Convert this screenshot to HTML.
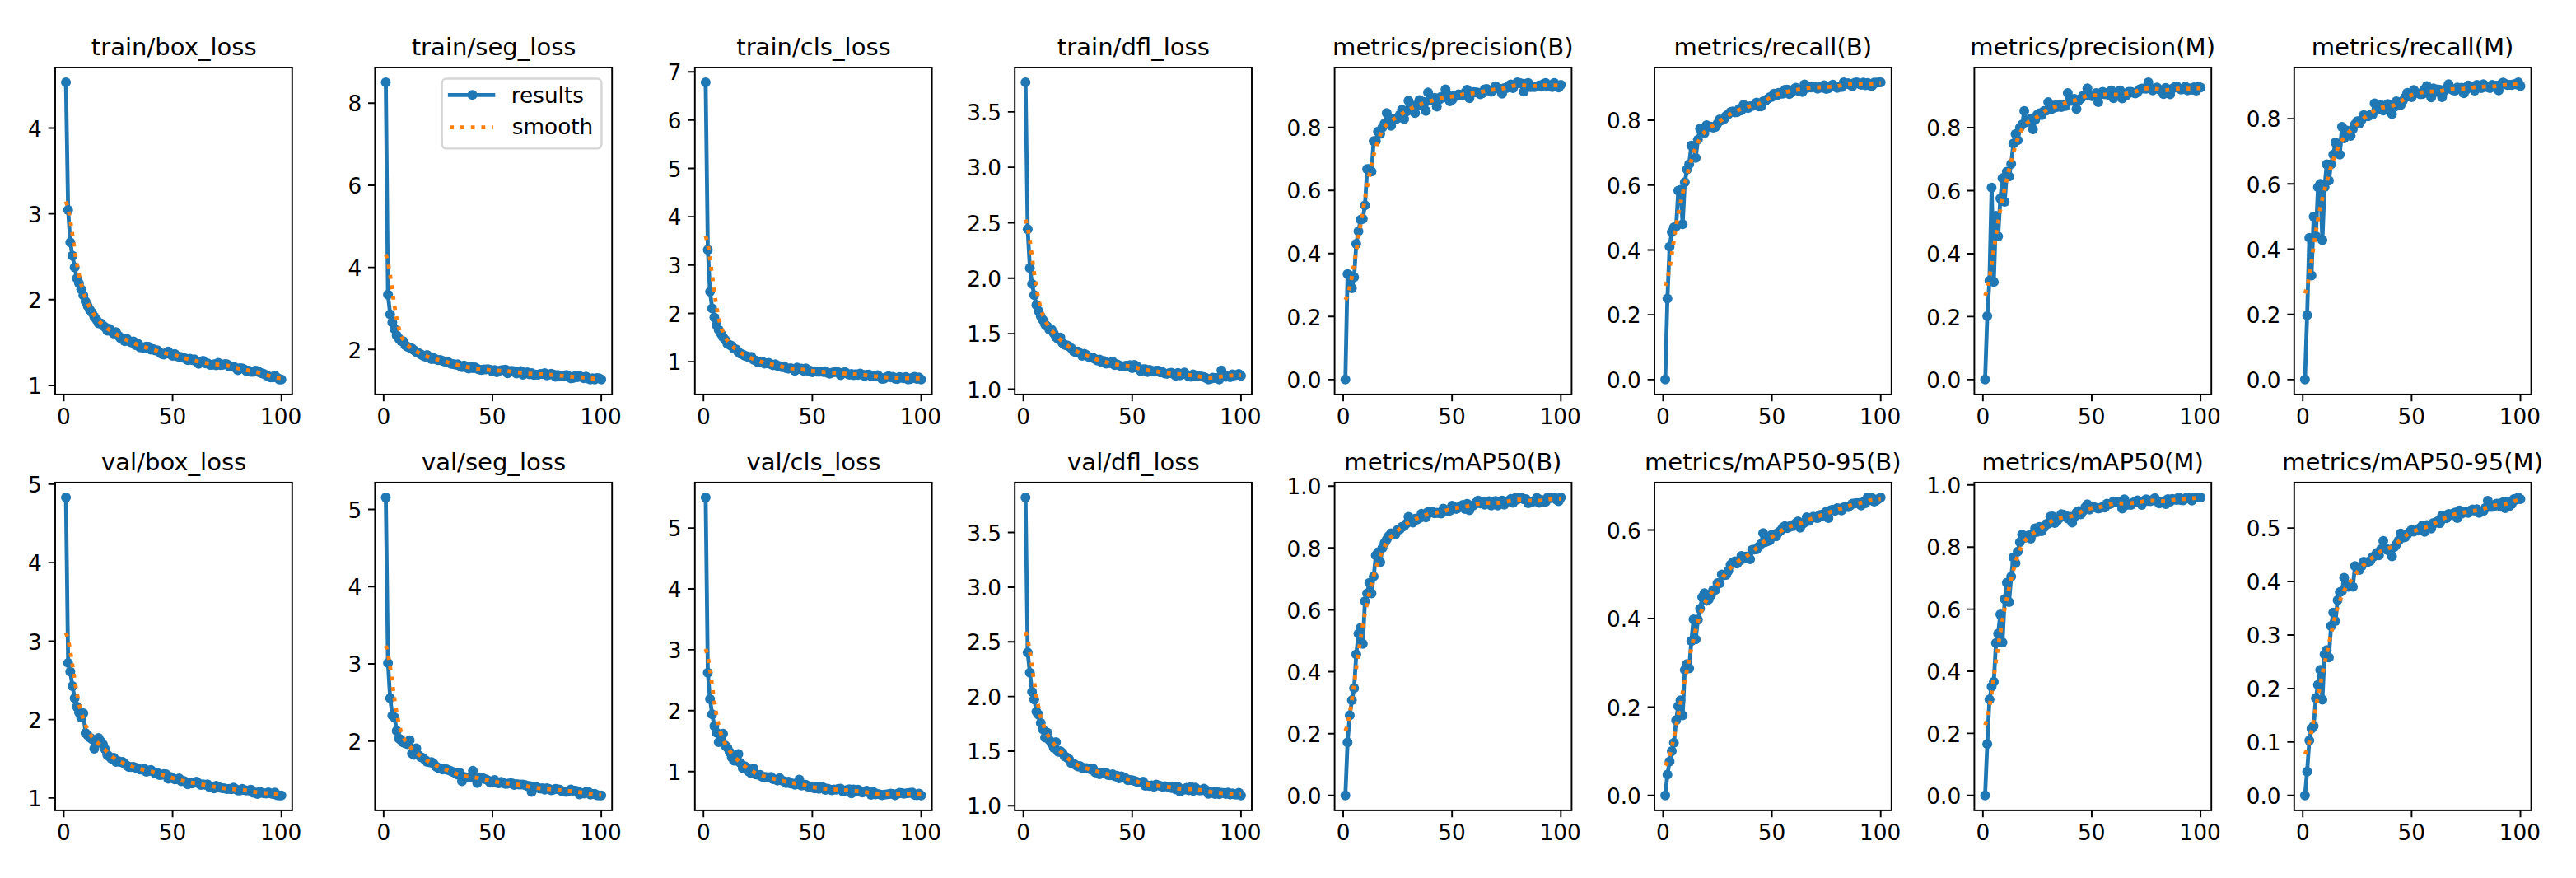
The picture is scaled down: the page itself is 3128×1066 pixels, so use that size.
<!DOCTYPE html>
<html><head><meta charset="utf-8"><title>results</title><style>html,body{margin:0;padding:0;background:#fff;}svg{display:block;}</style></head><body>
<svg width="3128" height="1066" viewBox="0 0 3128 1066">
<rect width="3128" height="1066" fill="#fff"/>
<g font-family="DejaVu Sans, Liberation Sans, sans-serif" fill="#000">
<polyline points="80.08,100.04 82.72,255.06 85.37,294.33 88.01,310.58 90.65,324.44 93.30,337.88 95.94,344.02 98.58,351.32 101.22,358.61 103.87,365.90 106.51,371.40 109.15,376.25 111.80,379.63 114.44,384.52 117.08,387.91 119.72,392.40 122.37,392.42 125.01,395.35 127.65,397.30 130.29,401.60 132.94,399.24 135.58,402.79 138.22,404.99 140.87,403.31 143.51,407.42 146.15,410.61 148.79,410.55 151.44,414.26 154.08,411.14 156.72,414.19 159.37,415.72 162.01,414.44 164.65,419.06 167.29,417.32 169.94,421.87 172.58,421.24 175.22,423.09 177.87,420.66 180.51,421.12 183.15,424.55 185.79,423.66 188.44,425.59 191.08,425.24 193.72,427.66 196.36,429.66 199.01,430.55 201.65,428.49 204.29,426.85 206.94,430.25 209.58,432.10 212.22,429.70 214.86,432.53 217.51,433.25 220.15,433.51 222.79,434.46 225.44,435.19 228.08,437.27 230.72,435.53 233.36,437.16 236.01,436.32 238.65,439.08 241.29,441.66 243.93,439.84 246.58,437.99 249.22,441.13 251.86,441.01 254.51,442.88 257.15,442.95 259.79,442.21 262.43,443.62 265.08,440.46 267.72,443.17 270.36,443.12 273.01,441.90 275.65,442.34 278.29,445.10 280.93,444.96 283.58,445.03 286.22,446.84 288.86,449.50 291.51,446.92 294.15,447.19 296.79,448.38 299.43,450.70 302.08,450.08 304.72,451.41 307.36,451.59 310.00,450.08 312.65,450.39 315.29,452.21 317.93,453.19 320.58,453.94 323.22,455.76 325.86,456.71 328.50,458.26 331.15,458.21 333.79,455.93 336.43,458.43 339.08,460.67 341.72,460.86" fill="none" stroke="#1f77b4" stroke-width="4.8" stroke-linejoin="round" stroke-linecap="square"/>
<g fill="#1f77b4"><circle cx="80.08" cy="100.04" r="6"/><circle cx="82.72" cy="255.06" r="6"/><circle cx="85.37" cy="294.33" r="6"/><circle cx="88.01" cy="310.58" r="6"/><circle cx="90.65" cy="324.44" r="6"/><circle cx="93.30" cy="337.88" r="6"/><circle cx="95.94" cy="344.02" r="6"/><circle cx="98.58" cy="351.32" r="6"/><circle cx="101.22" cy="358.61" r="6"/><circle cx="103.87" cy="365.90" r="6"/><circle cx="106.51" cy="371.40" r="6"/><circle cx="109.15" cy="376.25" r="6"/><circle cx="111.80" cy="379.63" r="6"/><circle cx="114.44" cy="384.52" r="6"/><circle cx="117.08" cy="387.91" r="6"/><circle cx="119.72" cy="392.40" r="6"/><circle cx="122.37" cy="392.42" r="6"/><circle cx="125.01" cy="395.35" r="6"/><circle cx="127.65" cy="397.30" r="6"/><circle cx="130.29" cy="401.60" r="6"/><circle cx="132.94" cy="399.24" r="6"/><circle cx="135.58" cy="402.79" r="6"/><circle cx="138.22" cy="404.99" r="6"/><circle cx="140.87" cy="403.31" r="6"/><circle cx="143.51" cy="407.42" r="6"/><circle cx="146.15" cy="410.61" r="6"/><circle cx="148.79" cy="410.55" r="6"/><circle cx="151.44" cy="414.26" r="6"/><circle cx="154.08" cy="411.14" r="6"/><circle cx="156.72" cy="414.19" r="6"/><circle cx="159.37" cy="415.72" r="6"/><circle cx="162.01" cy="414.44" r="6"/><circle cx="164.65" cy="419.06" r="6"/><circle cx="167.29" cy="417.32" r="6"/><circle cx="169.94" cy="421.87" r="6"/><circle cx="172.58" cy="421.24" r="6"/><circle cx="175.22" cy="423.09" r="6"/><circle cx="177.87" cy="420.66" r="6"/><circle cx="180.51" cy="421.12" r="6"/><circle cx="183.15" cy="424.55" r="6"/><circle cx="185.79" cy="423.66" r="6"/><circle cx="188.44" cy="425.59" r="6"/><circle cx="191.08" cy="425.24" r="6"/><circle cx="193.72" cy="427.66" r="6"/><circle cx="196.36" cy="429.66" r="6"/><circle cx="199.01" cy="430.55" r="6"/><circle cx="201.65" cy="428.49" r="6"/><circle cx="204.29" cy="426.85" r="6"/><circle cx="206.94" cy="430.25" r="6"/><circle cx="209.58" cy="432.10" r="6"/><circle cx="212.22" cy="429.70" r="6"/><circle cx="214.86" cy="432.53" r="6"/><circle cx="217.51" cy="433.25" r="6"/><circle cx="220.15" cy="433.51" r="6"/><circle cx="222.79" cy="434.46" r="6"/><circle cx="225.44" cy="435.19" r="6"/><circle cx="228.08" cy="437.27" r="6"/><circle cx="230.72" cy="435.53" r="6"/><circle cx="233.36" cy="437.16" r="6"/><circle cx="236.01" cy="436.32" r="6"/><circle cx="238.65" cy="439.08" r="6"/><circle cx="241.29" cy="441.66" r="6"/><circle cx="243.93" cy="439.84" r="6"/><circle cx="246.58" cy="437.99" r="6"/><circle cx="249.22" cy="441.13" r="6"/><circle cx="251.86" cy="441.01" r="6"/><circle cx="254.51" cy="442.88" r="6"/><circle cx="257.15" cy="442.95" r="6"/><circle cx="259.79" cy="442.21" r="6"/><circle cx="262.43" cy="443.62" r="6"/><circle cx="265.08" cy="440.46" r="6"/><circle cx="267.72" cy="443.17" r="6"/><circle cx="270.36" cy="443.12" r="6"/><circle cx="273.01" cy="441.90" r="6"/><circle cx="275.65" cy="442.34" r="6"/><circle cx="278.29" cy="445.10" r="6"/><circle cx="280.93" cy="444.96" r="6"/><circle cx="283.58" cy="445.03" r="6"/><circle cx="286.22" cy="446.84" r="6"/><circle cx="288.86" cy="449.50" r="6"/><circle cx="291.51" cy="446.92" r="6"/><circle cx="294.15" cy="447.19" r="6"/><circle cx="296.79" cy="448.38" r="6"/><circle cx="299.43" cy="450.70" r="6"/><circle cx="302.08" cy="450.08" r="6"/><circle cx="304.72" cy="451.41" r="6"/><circle cx="307.36" cy="451.59" r="6"/><circle cx="310.00" cy="450.08" r="6"/><circle cx="312.65" cy="450.39" r="6"/><circle cx="315.29" cy="452.21" r="6"/><circle cx="317.93" cy="453.19" r="6"/><circle cx="320.58" cy="453.94" r="6"/><circle cx="323.22" cy="455.76" r="6"/><circle cx="325.86" cy="456.71" r="6"/><circle cx="328.50" cy="458.26" r="6"/><circle cx="331.15" cy="458.21" r="6"/><circle cx="333.79" cy="455.93" r="6"/><circle cx="336.43" cy="458.43" r="6"/><circle cx="339.08" cy="460.67" r="6"/><circle cx="341.72" cy="460.86" r="6"/></g>
<polyline points="80.08,244.60 82.72,252.81 85.37,267.35 88.01,285.22 90.65,303.46 93.30,320.00 95.94,333.91 98.58,345.18 101.22,354.26 103.87,361.71 106.51,367.98 109.15,373.39 111.80,378.12 114.44,382.28 117.08,385.94 119.72,389.16 122.37,391.99 125.01,394.49 127.65,396.72 130.29,398.73 132.94,400.58 135.58,402.32 138.22,404.00 140.87,405.64 143.51,407.24 146.15,408.78 148.79,410.23 151.44,411.57 154.08,412.83 156.72,414.03 159.37,415.20 162.01,416.35 164.65,417.48 167.29,418.56 169.94,419.57 172.58,420.48 175.22,421.31 177.87,422.08 180.51,422.85 183.15,423.64 185.79,424.47 188.44,425.33 191.08,426.20 193.72,427.02 196.36,427.76 199.01,428.42 201.65,429.01 204.29,429.58 206.94,430.16 209.58,430.79 212.22,431.46 214.86,432.18 217.51,432.93 220.15,433.67 222.79,434.41 225.44,435.12 228.08,435.81 230.72,436.49 233.36,437.16 236.01,437.82 238.65,438.46 241.29,439.07 243.93,439.65 246.58,440.19 249.22,440.70 251.86,441.16 254.51,441.57 257.15,441.90 259.79,442.16 262.43,442.36 265.08,442.54 267.72,442.75 270.36,443.02 273.01,443.39 275.65,443.87 278.29,444.44 280.93,445.09 283.58,445.76 286.22,446.44 288.86,447.09 291.51,447.72 294.15,448.32 296.79,448.89 299.43,449.44 302.08,449.96 304.72,450.45 307.36,450.93 310.00,451.45 312.65,452.04 315.29,452.72 317.93,453.50 320.58,454.33 323.22,455.18 325.86,456.00 328.50,456.76 331.15,457.44 333.79,458.04 336.43,458.53 339.08,458.90 341.72,459.09" fill="none" stroke="#ff7f0e" stroke-width="4.8" stroke-dasharray="4.80 7.92" stroke-linecap="butt" stroke-linejoin="round"/>
<rect x="67.00" y="82.00" width="287.80" height="396.90" fill="none" stroke="#000" stroke-width="1.92" stroke-linejoin="miter"/>
<path d="M77.44 478.90V487.30 M209.58 478.90V487.30 M341.72 478.90V487.30 M67.00 468.00H58.60 M67.00 363.82H58.60 M67.00 259.64H58.60 M67.00 155.46H58.60" stroke="#000" stroke-width="1.92" fill="none"/>
<polyline points="468.48,100.04 471.12,357.82 473.77,381.80 476.41,391.52 479.05,399.39 481.70,407.22 484.34,411.01 486.98,413.89 489.62,414.15 492.27,419.19 494.91,421.03 497.55,422.20 500.20,423.01 502.84,425.29 505.48,427.51 508.12,428.61 510.77,430.06 513.41,431.78 516.05,433.11 518.69,430.96 521.34,434.61 523.98,436.00 526.62,434.83 529.27,436.22 531.91,437.23 534.55,436.88 537.19,438.01 539.84,438.89 542.48,438.75 545.12,440.19 547.77,441.87 550.41,442.00 553.05,442.67 555.69,442.19 558.34,444.34 560.98,445.79 563.62,443.76 566.27,446.10 568.91,447.40 571.55,444.95 574.19,446.95 576.84,445.93 579.48,447.72 582.12,448.80 584.76,449.21 587.41,448.49 590.05,448.39 592.69,448.30 595.34,448.98 597.98,450.95 600.62,449.30 603.26,452.01 605.91,450.26 608.55,449.41 611.19,449.19 613.84,448.68 616.48,453.22 619.12,450.50 621.76,450.21 624.41,450.80 627.05,453.56 629.69,452.08 632.33,450.43 634.98,455.02 637.62,452.67 640.26,452.03 642.91,454.52 645.55,452.94 648.19,455.14 650.83,454.85 653.48,454.91 656.12,453.93 658.76,454.19 661.41,453.04 664.05,455.76 666.69,454.98 669.33,453.83 671.98,454.66 674.62,457.44 677.26,455.18 679.91,456.94 682.55,456.00 685.19,456.24 687.83,455.15 690.48,456.69 693.12,459.38 695.76,458.93 698.40,456.44 701.05,457.99 703.69,456.44 706.33,457.82 708.98,459.36 711.62,457.17 714.26,459.81 716.90,460.86 719.55,459.21 722.19,460.86 724.83,459.10 727.48,459.15 730.12,460.86" fill="none" stroke="#1f77b4" stroke-width="4.8" stroke-linejoin="round" stroke-linecap="square"/>
<g fill="#1f77b4"><circle cx="468.48" cy="100.04" r="6"/><circle cx="471.12" cy="357.82" r="6"/><circle cx="473.77" cy="381.80" r="6"/><circle cx="476.41" cy="391.52" r="6"/><circle cx="479.05" cy="399.39" r="6"/><circle cx="481.70" cy="407.22" r="6"/><circle cx="484.34" cy="411.01" r="6"/><circle cx="486.98" cy="413.89" r="6"/><circle cx="489.62" cy="414.15" r="6"/><circle cx="492.27" cy="419.19" r="6"/><circle cx="494.91" cy="421.03" r="6"/><circle cx="497.55" cy="422.20" r="6"/><circle cx="500.20" cy="423.01" r="6"/><circle cx="502.84" cy="425.29" r="6"/><circle cx="505.48" cy="427.51" r="6"/><circle cx="508.12" cy="428.61" r="6"/><circle cx="510.77" cy="430.06" r="6"/><circle cx="513.41" cy="431.78" r="6"/><circle cx="516.05" cy="433.11" r="6"/><circle cx="518.69" cy="430.96" r="6"/><circle cx="521.34" cy="434.61" r="6"/><circle cx="523.98" cy="436.00" r="6"/><circle cx="526.62" cy="434.83" r="6"/><circle cx="529.27" cy="436.22" r="6"/><circle cx="531.91" cy="437.23" r="6"/><circle cx="534.55" cy="436.88" r="6"/><circle cx="537.19" cy="438.01" r="6"/><circle cx="539.84" cy="438.89" r="6"/><circle cx="542.48" cy="438.75" r="6"/><circle cx="545.12" cy="440.19" r="6"/><circle cx="547.77" cy="441.87" r="6"/><circle cx="550.41" cy="442.00" r="6"/><circle cx="553.05" cy="442.67" r="6"/><circle cx="555.69" cy="442.19" r="6"/><circle cx="558.34" cy="444.34" r="6"/><circle cx="560.98" cy="445.79" r="6"/><circle cx="563.62" cy="443.76" r="6"/><circle cx="566.27" cy="446.10" r="6"/><circle cx="568.91" cy="447.40" r="6"/><circle cx="571.55" cy="444.95" r="6"/><circle cx="574.19" cy="446.95" r="6"/><circle cx="576.84" cy="445.93" r="6"/><circle cx="579.48" cy="447.72" r="6"/><circle cx="582.12" cy="448.80" r="6"/><circle cx="584.76" cy="449.21" r="6"/><circle cx="587.41" cy="448.49" r="6"/><circle cx="590.05" cy="448.39" r="6"/><circle cx="592.69" cy="448.30" r="6"/><circle cx="595.34" cy="448.98" r="6"/><circle cx="597.98" cy="450.95" r="6"/><circle cx="600.62" cy="449.30" r="6"/><circle cx="603.26" cy="452.01" r="6"/><circle cx="605.91" cy="450.26" r="6"/><circle cx="608.55" cy="449.41" r="6"/><circle cx="611.19" cy="449.19" r="6"/><circle cx="613.84" cy="448.68" r="6"/><circle cx="616.48" cy="453.22" r="6"/><circle cx="619.12" cy="450.50" r="6"/><circle cx="621.76" cy="450.21" r="6"/><circle cx="624.41" cy="450.80" r="6"/><circle cx="627.05" cy="453.56" r="6"/><circle cx="629.69" cy="452.08" r="6"/><circle cx="632.33" cy="450.43" r="6"/><circle cx="634.98" cy="455.02" r="6"/><circle cx="637.62" cy="452.67" r="6"/><circle cx="640.26" cy="452.03" r="6"/><circle cx="642.91" cy="454.52" r="6"/><circle cx="645.55" cy="452.94" r="6"/><circle cx="648.19" cy="455.14" r="6"/><circle cx="650.83" cy="454.85" r="6"/><circle cx="653.48" cy="454.91" r="6"/><circle cx="656.12" cy="453.93" r="6"/><circle cx="658.76" cy="454.19" r="6"/><circle cx="661.41" cy="453.04" r="6"/><circle cx="664.05" cy="455.76" r="6"/><circle cx="666.69" cy="454.98" r="6"/><circle cx="669.33" cy="453.83" r="6"/><circle cx="671.98" cy="454.66" r="6"/><circle cx="674.62" cy="457.44" r="6"/><circle cx="677.26" cy="455.18" r="6"/><circle cx="679.91" cy="456.94" r="6"/><circle cx="682.55" cy="456.00" r="6"/><circle cx="685.19" cy="456.24" r="6"/><circle cx="687.83" cy="455.15" r="6"/><circle cx="690.48" cy="456.69" r="6"/><circle cx="693.12" cy="459.38" r="6"/><circle cx="695.76" cy="458.93" r="6"/><circle cx="698.40" cy="456.44" r="6"/><circle cx="701.05" cy="457.99" r="6"/><circle cx="703.69" cy="456.44" r="6"/><circle cx="706.33" cy="457.82" r="6"/><circle cx="708.98" cy="459.36" r="6"/><circle cx="711.62" cy="457.17" r="6"/><circle cx="714.26" cy="459.81" r="6"/><circle cx="716.90" cy="460.86" r="6"/><circle cx="719.55" cy="459.21" r="6"/><circle cx="722.19" cy="460.86" r="6"/><circle cx="724.83" cy="459.10" r="6"/><circle cx="727.48" cy="459.15" r="6"/><circle cx="730.12" cy="460.86" r="6"/></g>
<polyline points="468.48,308.94 471.12,318.17 473.77,334.19 476.41,353.19 479.05,371.55 481.70,386.92 484.34,398.51 486.98,406.66 489.62,412.24 492.27,416.13 494.91,419.01 497.55,421.31 500.20,423.29 502.84,425.04 505.48,426.64 508.12,428.12 510.77,429.46 513.41,430.68 516.05,431.79 518.69,432.79 521.34,433.71 523.98,434.55 526.62,435.32 529.27,436.05 531.91,436.74 534.55,437.42 537.19,438.11 539.84,438.82 542.48,439.55 545.12,440.29 547.77,441.03 550.41,441.76 553.05,442.46 555.69,443.14 558.34,443.78 560.98,444.37 563.62,444.91 566.27,445.40 568.91,445.85 571.55,446.27 574.19,446.68 576.84,447.09 579.48,447.48 582.12,447.86 584.76,448.21 587.41,448.52 590.05,448.82 592.69,449.10 595.34,449.36 597.98,449.61 600.62,449.81 603.26,449.97 605.91,450.08 608.55,450.18 611.19,450.31 613.84,450.47 616.48,450.68 619.12,450.93 621.76,451.21 624.41,451.51 627.05,451.82 629.69,452.12 632.33,452.42 634.98,452.71 637.62,453.00 640.26,453.28 642.91,453.55 645.55,453.80 648.19,454.01 650.83,454.16 653.48,454.28 656.12,454.36 658.76,454.44 661.41,454.54 664.05,454.69 666.69,454.87 669.33,455.09 671.98,455.33 674.62,455.58 677.26,455.82 679.91,456.05 682.55,456.28 685.19,456.51 687.83,456.76 690.48,457.01 693.12,457.24 695.76,457.44 698.40,457.61 701.05,457.77 703.69,457.96 706.33,458.19 708.98,458.46 711.62,458.76 714.26,459.06 716.90,459.33 719.55,459.55 722.19,459.70 724.83,459.81 727.48,459.87 730.12,459.90" fill="none" stroke="#ff7f0e" stroke-width="4.8" stroke-dasharray="4.80 7.92" stroke-linecap="butt" stroke-linejoin="round"/>
<rect x="455.40" y="82.00" width="287.80" height="396.90" fill="none" stroke="#000" stroke-width="1.92" stroke-linejoin="miter"/>
<path d="M465.84 478.90V487.30 M597.98 478.90V487.30 M730.12 478.90V487.30 M455.40 424.32H447.00 M455.40 324.62H447.00 M455.40 224.92H447.00 M455.40 125.22H447.00" stroke="#000" stroke-width="1.92" fill="none"/>
<polyline points="856.88,100.04 859.52,303.21 862.17,354.12 864.81,374.41 867.45,385.49 870.10,394.70 872.74,400.39 875.38,404.94 878.02,409.61 880.67,412.86 883.31,417.23 885.95,418.81 888.60,419.94 891.24,423.21 893.88,424.25 896.52,427.58 899.17,429.43 901.81,430.30 904.45,432.04 907.09,432.38 909.74,434.16 912.38,433.25 915.02,436.81 917.67,437.76 920.31,439.68 922.95,439.09 925.59,438.95 928.24,441.42 930.88,441.08 933.52,440.62 936.17,442.30 938.81,443.48 941.45,442.32 944.09,444.26 946.74,444.62 949.38,445.73 952.02,444.70 954.67,447.04 957.31,447.63 959.95,446.89 962.59,447.71 965.24,450.24 967.88,446.30 970.52,448.12 973.16,447.40 975.81,450.16 978.45,447.32 981.09,450.16 983.74,449.95 986.38,452.02 989.02,450.75 991.66,451.16 994.31,451.40 996.95,450.88 999.59,451.71 1002.24,450.67 1004.88,452.77 1007.52,453.65 1010.16,452.58 1012.81,451.93 1015.45,451.31 1018.09,452.04 1020.73,455.57 1023.38,452.97 1026.02,451.78 1028.66,453.86 1031.31,454.89 1033.95,454.10 1036.59,455.41 1039.23,454.13 1041.88,455.17 1044.52,453.51 1047.16,454.84 1049.81,456.59 1052.45,455.02 1055.09,454.73 1057.73,456.82 1060.38,456.79 1063.02,456.40 1065.66,455.44 1068.31,457.63 1070.95,459.89 1073.59,459.69 1076.23,457.91 1078.88,456.83 1081.52,458.13 1084.16,457.59 1086.80,459.83 1089.45,460.34 1092.09,457.67 1094.73,458.41 1097.38,459.31 1100.02,457.80 1102.66,460.84 1105.30,460.25 1107.95,458.46 1110.59,457.51 1113.23,460.05 1115.88,458.18 1118.52,460.86" fill="none" stroke="#1f77b4" stroke-width="4.8" stroke-linejoin="round" stroke-linecap="square"/>
<g fill="#1f77b4"><circle cx="856.88" cy="100.04" r="6"/><circle cx="859.52" cy="303.21" r="6"/><circle cx="862.17" cy="354.12" r="6"/><circle cx="864.81" cy="374.41" r="6"/><circle cx="867.45" cy="385.49" r="6"/><circle cx="870.10" cy="394.70" r="6"/><circle cx="872.74" cy="400.39" r="6"/><circle cx="875.38" cy="404.94" r="6"/><circle cx="878.02" cy="409.61" r="6"/><circle cx="880.67" cy="412.86" r="6"/><circle cx="883.31" cy="417.23" r="6"/><circle cx="885.95" cy="418.81" r="6"/><circle cx="888.60" cy="419.94" r="6"/><circle cx="891.24" cy="423.21" r="6"/><circle cx="893.88" cy="424.25" r="6"/><circle cx="896.52" cy="427.58" r="6"/><circle cx="899.17" cy="429.43" r="6"/><circle cx="901.81" cy="430.30" r="6"/><circle cx="904.45" cy="432.04" r="6"/><circle cx="907.09" cy="432.38" r="6"/><circle cx="909.74" cy="434.16" r="6"/><circle cx="912.38" cy="433.25" r="6"/><circle cx="915.02" cy="436.81" r="6"/><circle cx="917.67" cy="437.76" r="6"/><circle cx="920.31" cy="439.68" r="6"/><circle cx="922.95" cy="439.09" r="6"/><circle cx="925.59" cy="438.95" r="6"/><circle cx="928.24" cy="441.42" r="6"/><circle cx="930.88" cy="441.08" r="6"/><circle cx="933.52" cy="440.62" r="6"/><circle cx="936.17" cy="442.30" r="6"/><circle cx="938.81" cy="443.48" r="6"/><circle cx="941.45" cy="442.32" r="6"/><circle cx="944.09" cy="444.26" r="6"/><circle cx="946.74" cy="444.62" r="6"/><circle cx="949.38" cy="445.73" r="6"/><circle cx="952.02" cy="444.70" r="6"/><circle cx="954.67" cy="447.04" r="6"/><circle cx="957.31" cy="447.63" r="6"/><circle cx="959.95" cy="446.89" r="6"/><circle cx="962.59" cy="447.71" r="6"/><circle cx="965.24" cy="450.24" r="6"/><circle cx="967.88" cy="446.30" r="6"/><circle cx="970.52" cy="448.12" r="6"/><circle cx="973.16" cy="447.40" r="6"/><circle cx="975.81" cy="450.16" r="6"/><circle cx="978.45" cy="447.32" r="6"/><circle cx="981.09" cy="450.16" r="6"/><circle cx="983.74" cy="449.95" r="6"/><circle cx="986.38" cy="452.02" r="6"/><circle cx="989.02" cy="450.75" r="6"/><circle cx="991.66" cy="451.16" r="6"/><circle cx="994.31" cy="451.40" r="6"/><circle cx="996.95" cy="450.88" r="6"/><circle cx="999.59" cy="451.71" r="6"/><circle cx="1002.24" cy="450.67" r="6"/><circle cx="1004.88" cy="452.77" r="6"/><circle cx="1007.52" cy="453.65" r="6"/><circle cx="1010.16" cy="452.58" r="6"/><circle cx="1012.81" cy="451.93" r="6"/><circle cx="1015.45" cy="451.31" r="6"/><circle cx="1018.09" cy="452.04" r="6"/><circle cx="1020.73" cy="455.57" r="6"/><circle cx="1023.38" cy="452.97" r="6"/><circle cx="1026.02" cy="451.78" r="6"/><circle cx="1028.66" cy="453.86" r="6"/><circle cx="1031.31" cy="454.89" r="6"/><circle cx="1033.95" cy="454.10" r="6"/><circle cx="1036.59" cy="455.41" r="6"/><circle cx="1039.23" cy="454.13" r="6"/><circle cx="1041.88" cy="455.17" r="6"/><circle cx="1044.52" cy="453.51" r="6"/><circle cx="1047.16" cy="454.84" r="6"/><circle cx="1049.81" cy="456.59" r="6"/><circle cx="1052.45" cy="455.02" r="6"/><circle cx="1055.09" cy="454.73" r="6"/><circle cx="1057.73" cy="456.82" r="6"/><circle cx="1060.38" cy="456.79" r="6"/><circle cx="1063.02" cy="456.40" r="6"/><circle cx="1065.66" cy="455.44" r="6"/><circle cx="1068.31" cy="457.63" r="6"/><circle cx="1070.95" cy="459.89" r="6"/><circle cx="1073.59" cy="459.69" r="6"/><circle cx="1076.23" cy="457.91" r="6"/><circle cx="1078.88" cy="456.83" r="6"/><circle cx="1081.52" cy="458.13" r="6"/><circle cx="1084.16" cy="457.59" r="6"/><circle cx="1086.80" cy="459.83" r="6"/><circle cx="1089.45" cy="460.34" r="6"/><circle cx="1092.09" cy="457.67" r="6"/><circle cx="1094.73" cy="458.41" r="6"/><circle cx="1097.38" cy="459.31" r="6"/><circle cx="1100.02" cy="457.80" r="6"/><circle cx="1102.66" cy="460.84" r="6"/><circle cx="1105.30" cy="460.25" r="6"/><circle cx="1107.95" cy="458.46" r="6"/><circle cx="1110.59" cy="457.51" r="6"/><circle cx="1113.23" cy="460.05" r="6"/><circle cx="1115.88" cy="458.18" r="6"/><circle cx="1118.52" cy="460.86" r="6"/></g>
<polyline points="856.88,286.46 859.52,296.31 862.17,313.56 864.81,334.33 867.45,354.88 870.10,372.62 872.74,386.55 875.38,396.83 878.02,404.25 880.67,409.65 883.31,413.76 885.95,417.04 888.60,419.80 891.24,422.21 893.88,424.35 896.52,426.29 899.17,428.05 901.81,429.64 904.45,431.09 907.09,432.42 909.74,433.67 912.38,434.86 915.02,435.98 917.67,437.02 920.31,437.98 922.95,438.84 925.59,439.60 928.24,440.29 930.88,440.92 933.52,441.53 936.17,442.13 938.81,442.73 941.45,443.34 944.09,443.95 946.74,444.55 949.38,445.15 952.02,445.72 954.67,446.26 957.31,446.74 959.95,447.15 962.59,447.49 965.24,447.78 967.88,448.03 970.52,448.28 973.16,448.56 975.81,448.88 978.45,449.25 981.09,449.65 983.74,450.04 986.38,450.41 989.02,450.72 991.66,450.98 994.31,451.21 996.95,451.42 999.59,451.63 1002.24,451.83 1004.88,452.02 1007.52,452.20 1010.16,452.36 1012.81,452.51 1015.45,452.67 1018.09,452.85 1020.73,453.06 1023.38,453.28 1026.02,453.52 1028.66,453.76 1031.31,453.99 1033.95,454.21 1036.59,454.40 1039.23,454.57 1041.88,454.73 1044.52,454.90 1047.16,455.09 1049.81,455.31 1052.45,455.55 1055.09,455.82 1057.73,456.11 1060.38,456.44 1063.02,456.78 1065.66,457.14 1068.31,457.47 1070.95,457.75 1073.59,457.98 1076.23,458.14 1078.88,458.27 1081.52,458.38 1084.16,458.50 1086.80,458.61 1089.45,458.72 1092.09,458.82 1094.73,458.90 1097.38,458.98 1100.02,459.05 1102.66,459.10 1105.30,459.15 1107.95,459.18 1110.59,459.22 1113.23,459.26 1115.88,459.31 1118.52,459.34" fill="none" stroke="#ff7f0e" stroke-width="4.8" stroke-dasharray="4.80 7.92" stroke-linecap="butt" stroke-linejoin="round"/>
<rect x="843.80" y="82.00" width="287.80" height="396.90" fill="none" stroke="#000" stroke-width="1.92" stroke-linejoin="miter"/>
<path d="M854.24 478.90V487.30 M986.38 478.90V487.30 M1118.52 478.90V487.30 M843.80 439.10H835.40 M843.80 380.45H835.40 M843.80 321.80H835.40 M843.80 263.15H835.40 M843.80 204.50H835.40 M843.80 145.85H835.40 M843.80 87.20H835.40" stroke="#000" stroke-width="1.92" fill="none"/>
<polyline points="1245.28,100.04 1247.92,278.28 1250.57,325.39 1253.21,344.78 1255.85,358.24 1258.50,370.22 1261.14,377.62 1263.78,384.09 1266.42,388.47 1269.07,394.02 1271.71,396.16 1274.35,400.17 1277.00,400.17 1279.64,404.73 1282.28,409.30 1284.92,411.78 1287.57,409.76 1290.21,416.51 1292.85,418.76 1295.49,419.27 1298.14,420.62 1300.78,422.86 1303.42,425.93 1306.07,427.72 1308.71,426.77 1311.35,428.85 1313.99,432.07 1316.64,429.49 1319.28,430.99 1321.92,433.21 1324.57,434.03 1327.21,434.14 1329.85,436.09 1332.49,437.75 1335.14,436.50 1337.78,439.77 1340.42,438.34 1343.07,441.55 1345.71,440.44 1348.35,441.01 1350.99,438.99 1353.64,443.14 1356.28,442.24 1358.92,443.61 1361.56,444.78 1364.21,444.65 1366.85,443.88 1369.49,443.95 1372.14,443.34 1374.78,446.98 1377.42,443.11 1380.06,444.43 1382.71,447.68 1385.35,450.74 1387.99,448.18 1390.64,448.30 1393.28,451.75 1395.92,449.11 1398.56,449.99 1401.21,451.31 1403.85,450.02 1406.49,450.00 1409.13,452.37 1411.78,451.87 1414.42,453.40 1417.06,453.88 1419.71,452.96 1422.35,452.50 1424.99,454.00 1427.63,456.23 1430.28,452.71 1432.92,455.74 1435.56,453.85 1438.21,452.15 1440.85,454.96 1443.49,456.91 1446.13,457.61 1448.78,454.51 1451.42,456.36 1454.06,455.93 1456.71,456.91 1459.35,457.24 1461.99,457.83 1464.63,458.90 1467.28,460.86 1469.92,460.13 1472.56,458.57 1475.20,459.02 1477.85,458.93 1480.49,460.86 1483.13,449.78 1485.78,456.91 1488.42,457.62 1491.06,456.46 1493.70,457.95 1496.35,454.57 1498.99,455.80 1501.63,455.27 1504.28,454.03 1506.92,456.24" fill="none" stroke="#1f77b4" stroke-width="4.8" stroke-linejoin="round" stroke-linecap="square"/>
<g fill="#1f77b4"><circle cx="1245.28" cy="100.04" r="6"/><circle cx="1247.92" cy="278.28" r="6"/><circle cx="1250.57" cy="325.39" r="6"/><circle cx="1253.21" cy="344.78" r="6"/><circle cx="1255.85" cy="358.24" r="6"/><circle cx="1258.50" cy="370.22" r="6"/><circle cx="1261.14" cy="377.62" r="6"/><circle cx="1263.78" cy="384.09" r="6"/><circle cx="1266.42" cy="388.47" r="6"/><circle cx="1269.07" cy="394.02" r="6"/><circle cx="1271.71" cy="396.16" r="6"/><circle cx="1274.35" cy="400.17" r="6"/><circle cx="1277.00" cy="400.17" r="6"/><circle cx="1279.64" cy="404.73" r="6"/><circle cx="1282.28" cy="409.30" r="6"/><circle cx="1284.92" cy="411.78" r="6"/><circle cx="1287.57" cy="409.76" r="6"/><circle cx="1290.21" cy="416.51" r="6"/><circle cx="1292.85" cy="418.76" r="6"/><circle cx="1295.49" cy="419.27" r="6"/><circle cx="1298.14" cy="420.62" r="6"/><circle cx="1300.78" cy="422.86" r="6"/><circle cx="1303.42" cy="425.93" r="6"/><circle cx="1306.07" cy="427.72" r="6"/><circle cx="1308.71" cy="426.77" r="6"/><circle cx="1311.35" cy="428.85" r="6"/><circle cx="1313.99" cy="432.07" r="6"/><circle cx="1316.64" cy="429.49" r="6"/><circle cx="1319.28" cy="430.99" r="6"/><circle cx="1321.92" cy="433.21" r="6"/><circle cx="1324.57" cy="434.03" r="6"/><circle cx="1327.21" cy="434.14" r="6"/><circle cx="1329.85" cy="436.09" r="6"/><circle cx="1332.49" cy="437.75" r="6"/><circle cx="1335.14" cy="436.50" r="6"/><circle cx="1337.78" cy="439.77" r="6"/><circle cx="1340.42" cy="438.34" r="6"/><circle cx="1343.07" cy="441.55" r="6"/><circle cx="1345.71" cy="440.44" r="6"/><circle cx="1348.35" cy="441.01" r="6"/><circle cx="1350.99" cy="438.99" r="6"/><circle cx="1353.64" cy="443.14" r="6"/><circle cx="1356.28" cy="442.24" r="6"/><circle cx="1358.92" cy="443.61" r="6"/><circle cx="1361.56" cy="444.78" r="6"/><circle cx="1364.21" cy="444.65" r="6"/><circle cx="1366.85" cy="443.88" r="6"/><circle cx="1369.49" cy="443.95" r="6"/><circle cx="1372.14" cy="443.34" r="6"/><circle cx="1374.78" cy="446.98" r="6"/><circle cx="1377.42" cy="443.11" r="6"/><circle cx="1380.06" cy="444.43" r="6"/><circle cx="1382.71" cy="447.68" r="6"/><circle cx="1385.35" cy="450.74" r="6"/><circle cx="1387.99" cy="448.18" r="6"/><circle cx="1390.64" cy="448.30" r="6"/><circle cx="1393.28" cy="451.75" r="6"/><circle cx="1395.92" cy="449.11" r="6"/><circle cx="1398.56" cy="449.99" r="6"/><circle cx="1401.21" cy="451.31" r="6"/><circle cx="1403.85" cy="450.02" r="6"/><circle cx="1406.49" cy="450.00" r="6"/><circle cx="1409.13" cy="452.37" r="6"/><circle cx="1411.78" cy="451.87" r="6"/><circle cx="1414.42" cy="453.40" r="6"/><circle cx="1417.06" cy="453.88" r="6"/><circle cx="1419.71" cy="452.96" r="6"/><circle cx="1422.35" cy="452.50" r="6"/><circle cx="1424.99" cy="454.00" r="6"/><circle cx="1427.63" cy="456.23" r="6"/><circle cx="1430.28" cy="452.71" r="6"/><circle cx="1432.92" cy="455.74" r="6"/><circle cx="1435.56" cy="453.85" r="6"/><circle cx="1438.21" cy="452.15" r="6"/><circle cx="1440.85" cy="454.96" r="6"/><circle cx="1443.49" cy="456.91" r="6"/><circle cx="1446.13" cy="457.61" r="6"/><circle cx="1448.78" cy="454.51" r="6"/><circle cx="1451.42" cy="456.36" r="6"/><circle cx="1454.06" cy="455.93" r="6"/><circle cx="1456.71" cy="456.91" r="6"/><circle cx="1459.35" cy="457.24" r="6"/><circle cx="1461.99" cy="457.83" r="6"/><circle cx="1464.63" cy="458.90" r="6"/><circle cx="1467.28" cy="460.86" r="6"/><circle cx="1469.92" cy="460.13" r="6"/><circle cx="1472.56" cy="458.57" r="6"/><circle cx="1475.20" cy="459.02" r="6"/><circle cx="1477.85" cy="458.93" r="6"/><circle cx="1480.49" cy="460.86" r="6"/><circle cx="1483.13" cy="449.78" r="6"/><circle cx="1485.78" cy="456.91" r="6"/><circle cx="1488.42" cy="457.62" r="6"/><circle cx="1491.06" cy="456.46" r="6"/><circle cx="1493.70" cy="457.95" r="6"/><circle cx="1496.35" cy="454.57" r="6"/><circle cx="1498.99" cy="455.80" r="6"/><circle cx="1501.63" cy="455.27" r="6"/><circle cx="1504.28" cy="454.03" r="6"/><circle cx="1506.92" cy="456.24" r="6"/></g>
<polyline points="1245.28,266.60 1247.92,275.86 1250.57,292.17 1253.21,312.02 1255.85,331.96 1258.50,349.58 1261.14,363.82 1263.78,374.71 1266.42,382.86 1269.07,389.03 1271.71,393.87 1274.35,397.84 1277.00,401.27 1279.64,404.35 1282.28,407.19 1284.92,409.85 1287.57,412.35 1290.21,414.70 1292.85,416.92 1295.49,419.00 1298.14,420.95 1300.78,422.75 1303.42,424.42 1306.07,425.94 1308.71,427.31 1311.35,428.55 1313.99,429.69 1316.64,430.75 1319.28,431.76 1321.92,432.76 1324.57,433.76 1327.21,434.74 1329.85,435.70 1332.49,436.63 1335.14,437.50 1337.78,438.31 1340.42,439.04 1343.07,439.70 1345.71,440.30 1348.35,440.87 1350.99,441.43 1353.64,441.98 1356.28,442.52 1358.92,443.01 1361.56,443.45 1364.21,443.82 1366.85,444.14 1369.49,444.45 1372.14,444.80 1374.78,445.24 1377.42,445.78 1380.06,446.41 1382.71,447.10 1385.35,447.79 1387.99,448.43 1390.64,448.99 1393.28,449.46 1395.92,449.85 1398.56,450.21 1401.21,450.55 1403.85,450.91 1406.49,451.29 1409.13,451.70 1411.78,452.12 1414.42,452.53 1417.06,452.91 1419.71,453.24 1422.35,453.53 1424.99,453.77 1427.63,453.98 1430.28,454.17 1432.92,454.35 1435.56,454.56 1438.21,454.81 1440.85,455.10 1443.49,455.41 1446.13,455.73 1448.78,456.05 1451.42,456.39 1454.06,456.76 1456.71,457.16 1459.35,457.59 1461.99,458.02 1464.63,458.38 1467.28,458.61 1469.92,458.69 1472.56,458.58 1475.20,458.31 1477.85,457.93 1480.49,457.51 1483.13,457.11 1485.78,456.77 1488.42,456.51 1491.06,456.30 1493.70,456.11 1496.35,455.93 1498.99,455.76 1501.63,455.61 1504.28,455.50 1506.92,455.45" fill="none" stroke="#ff7f0e" stroke-width="4.8" stroke-dasharray="4.80 7.92" stroke-linecap="butt" stroke-linejoin="round"/>
<rect x="1232.20" y="82.00" width="287.80" height="396.90" fill="none" stroke="#000" stroke-width="1.92" stroke-linejoin="miter"/>
<path d="M1242.64 478.90V487.30 M1374.78 478.90V487.30 M1506.92 478.90V487.30 M1232.20 472.40H1223.80 M1232.20 405.09H1223.80 M1232.20 337.78H1223.80 M1232.20 270.47H1223.80 M1232.20 203.16H1223.80 M1232.20 135.85H1223.80" stroke="#000" stroke-width="1.92" fill="none"/>
<polyline points="1633.68,460.86 1636.32,332.68 1638.97,334.59 1641.61,349.90 1644.25,336.50 1646.90,295.95 1649.54,280.64 1652.18,266.87 1654.82,265.72 1657.47,249.27 1660.11,205.26 1662.75,205.26 1665.40,208.32 1668.04,171.21 1670.68,171.21 1673.32,159.73 1675.97,162.41 1678.61,154.76 1681.25,149.91 1683.89,137.16 1686.54,147.80 1689.18,152.84 1691.82,144.29 1694.47,144.97 1697.11,143.56 1699.75,139.49 1702.39,133.33 1705.04,144.43 1707.68,135.62 1710.32,122.23 1712.97,133.30 1715.61,128.43 1718.25,137.16 1720.89,127.27 1723.54,121.47 1726.18,128.23 1728.82,123.87 1731.47,134.86 1734.11,112.29 1736.75,121.85 1739.39,122.10 1742.04,118.69 1744.68,129.50 1747.32,121.24 1749.96,117.41 1752.61,118.53 1755.25,108.46 1757.89,114.65 1760.54,123.00 1763.18,121.20 1765.82,115.99 1768.46,116.76 1771.11,114.60 1773.75,115.84 1776.39,115.42 1779.04,112.12 1781.68,109.03 1784.32,119.17 1786.96,113.50 1789.61,111.76 1792.25,112.15 1794.89,112.61 1797.53,114.58 1800.18,113.28 1802.82,108.46 1805.46,107.91 1808.11,109.78 1810.75,111.54 1813.39,109.01 1816.03,104.63 1818.68,107.22 1821.32,107.87 1823.96,113.82 1826.61,106.95 1829.25,106.93 1831.89,104.32 1834.53,102.49 1837.18,106.91 1839.82,102.45 1842.46,100.04 1845.11,100.76 1847.75,101.43 1850.39,111.14 1853.03,101.84 1855.68,100.81 1858.32,105.70 1860.96,105.46 1863.60,105.78 1866.25,104.70 1868.89,103.87 1871.53,105.21 1874.18,101.96 1876.82,100.81 1879.46,104.70 1882.10,103.48 1884.75,105.78 1887.39,100.71 1890.03,103.63 1892.68,106.14 1895.32,103.10" fill="none" stroke="#1f77b4" stroke-width="4.8" stroke-linejoin="round" stroke-linecap="square"/>
<g fill="#1f77b4"><circle cx="1633.68" cy="460.86" r="6"/><circle cx="1636.32" cy="332.68" r="6"/><circle cx="1638.97" cy="334.59" r="6"/><circle cx="1641.61" cy="349.90" r="6"/><circle cx="1644.25" cy="336.50" r="6"/><circle cx="1646.90" cy="295.95" r="6"/><circle cx="1649.54" cy="280.64" r="6"/><circle cx="1652.18" cy="266.87" r="6"/><circle cx="1654.82" cy="265.72" r="6"/><circle cx="1657.47" cy="249.27" r="6"/><circle cx="1660.11" cy="205.26" r="6"/><circle cx="1662.75" cy="205.26" r="6"/><circle cx="1665.40" cy="208.32" r="6"/><circle cx="1668.04" cy="171.21" r="6"/><circle cx="1670.68" cy="171.21" r="6"/><circle cx="1673.32" cy="159.73" r="6"/><circle cx="1675.97" cy="162.41" r="6"/><circle cx="1678.61" cy="154.76" r="6"/><circle cx="1681.25" cy="149.91" r="6"/><circle cx="1683.89" cy="137.16" r="6"/><circle cx="1686.54" cy="147.80" r="6"/><circle cx="1689.18" cy="152.84" r="6"/><circle cx="1691.82" cy="144.29" r="6"/><circle cx="1694.47" cy="144.97" r="6"/><circle cx="1697.11" cy="143.56" r="6"/><circle cx="1699.75" cy="139.49" r="6"/><circle cx="1702.39" cy="133.33" r="6"/><circle cx="1705.04" cy="144.43" r="6"/><circle cx="1707.68" cy="135.62" r="6"/><circle cx="1710.32" cy="122.23" r="6"/><circle cx="1712.97" cy="133.30" r="6"/><circle cx="1715.61" cy="128.43" r="6"/><circle cx="1718.25" cy="137.16" r="6"/><circle cx="1720.89" cy="127.27" r="6"/><circle cx="1723.54" cy="121.47" r="6"/><circle cx="1726.18" cy="128.23" r="6"/><circle cx="1728.82" cy="123.87" r="6"/><circle cx="1731.47" cy="134.86" r="6"/><circle cx="1734.11" cy="112.29" r="6"/><circle cx="1736.75" cy="121.85" r="6"/><circle cx="1739.39" cy="122.10" r="6"/><circle cx="1742.04" cy="118.69" r="6"/><circle cx="1744.68" cy="129.50" r="6"/><circle cx="1747.32" cy="121.24" r="6"/><circle cx="1749.96" cy="117.41" r="6"/><circle cx="1752.61" cy="118.53" r="6"/><circle cx="1755.25" cy="108.46" r="6"/><circle cx="1757.89" cy="114.65" r="6"/><circle cx="1760.54" cy="123.00" r="6"/><circle cx="1763.18" cy="121.20" r="6"/><circle cx="1765.82" cy="115.99" r="6"/><circle cx="1768.46" cy="116.76" r="6"/><circle cx="1771.11" cy="114.60" r="6"/><circle cx="1773.75" cy="115.84" r="6"/><circle cx="1776.39" cy="115.42" r="6"/><circle cx="1779.04" cy="112.12" r="6"/><circle cx="1781.68" cy="109.03" r="6"/><circle cx="1784.32" cy="119.17" r="6"/><circle cx="1786.96" cy="113.50" r="6"/><circle cx="1789.61" cy="111.76" r="6"/><circle cx="1792.25" cy="112.15" r="6"/><circle cx="1794.89" cy="112.61" r="6"/><circle cx="1797.53" cy="114.58" r="6"/><circle cx="1800.18" cy="113.28" r="6"/><circle cx="1802.82" cy="108.46" r="6"/><circle cx="1805.46" cy="107.91" r="6"/><circle cx="1808.11" cy="109.78" r="6"/><circle cx="1810.75" cy="111.54" r="6"/><circle cx="1813.39" cy="109.01" r="6"/><circle cx="1816.03" cy="104.63" r="6"/><circle cx="1818.68" cy="107.22" r="6"/><circle cx="1821.32" cy="107.87" r="6"/><circle cx="1823.96" cy="113.82" r="6"/><circle cx="1826.61" cy="106.95" r="6"/><circle cx="1829.25" cy="106.93" r="6"/><circle cx="1831.89" cy="104.32" r="6"/><circle cx="1834.53" cy="102.49" r="6"/><circle cx="1837.18" cy="106.91" r="6"/><circle cx="1839.82" cy="102.45" r="6"/><circle cx="1842.46" cy="100.04" r="6"/><circle cx="1845.11" cy="100.76" r="6"/><circle cx="1847.75" cy="101.43" r="6"/><circle cx="1850.39" cy="111.14" r="6"/><circle cx="1853.03" cy="101.84" r="6"/><circle cx="1855.68" cy="100.81" r="6"/><circle cx="1858.32" cy="105.70" r="6"/><circle cx="1860.96" cy="105.46" r="6"/><circle cx="1863.60" cy="105.78" r="6"/><circle cx="1866.25" cy="104.70" r="6"/><circle cx="1868.89" cy="103.87" r="6"/><circle cx="1871.53" cy="105.21" r="6"/><circle cx="1874.18" cy="101.96" r="6"/><circle cx="1876.82" cy="100.81" r="6"/><circle cx="1879.46" cy="104.70" r="6"/><circle cx="1882.10" cy="103.48" r="6"/><circle cx="1884.75" cy="105.78" r="6"/><circle cx="1887.39" cy="100.71" r="6"/><circle cx="1890.03" cy="103.63" r="6"/><circle cx="1892.68" cy="106.14" r="6"/><circle cx="1895.32" cy="103.10" r="6"/></g>
<polyline points="1633.68,364.14 1636.32,358.81 1638.97,348.94 1641.61,335.82 1644.25,320.74 1646.90,304.75 1649.54,288.51 1652.18,272.37 1654.82,256.53 1657.47,241.16 1660.11,226.46 1662.75,212.66 1665.40,200.00 1668.04,188.69 1670.68,178.87 1673.32,170.58 1675.97,163.77 1678.61,158.34 1681.25,154.14 1683.89,150.96 1686.54,148.57 1689.18,146.70 1691.82,145.07 1694.47,143.50 1697.11,141.86 1699.75,140.12 1702.39,138.33 1705.04,136.53 1707.68,134.82 1710.32,133.26 1712.97,131.86 1715.61,130.62 1718.25,129.48 1720.89,128.41 1723.54,127.36 1726.18,126.32 1728.82,125.31 1731.47,124.35 1734.11,123.49 1736.75,122.74 1739.39,122.06 1742.04,121.41 1744.68,120.71 1747.32,119.93 1749.96,119.14 1752.61,118.43 1755.25,117.88 1757.89,117.52 1760.54,117.28 1763.18,117.05 1765.82,116.75 1768.46,116.32 1771.11,115.80 1773.75,115.24 1776.39,114.71 1779.04,114.26 1781.68,113.90 1784.32,113.60 1786.96,113.34 1789.61,113.06 1792.25,112.74 1794.89,112.35 1797.53,111.88 1800.18,111.35 1802.82,110.77 1805.46,110.21 1808.11,109.68 1810.75,109.22 1813.39,108.83 1816.03,108.52 1818.68,108.24 1821.32,107.93 1823.96,107.53 1826.61,107.00 1829.25,106.34 1831.89,105.61 1834.53,104.87 1837.18,104.23 1839.82,103.75 1842.46,103.46 1845.11,103.38 1847.75,103.46 1850.39,103.65 1853.03,103.87 1855.68,104.08 1858.32,104.25 1860.96,104.34 1863.60,104.34 1866.25,104.24 1868.89,104.07 1871.53,103.88 1874.18,103.70 1876.82,103.58 1879.46,103.53 1882.10,103.54 1884.75,103.60 1887.39,103.67 1890.03,103.75 1892.68,103.82 1895.32,103.85" fill="none" stroke="#ff7f0e" stroke-width="4.8" stroke-dasharray="4.80 7.92" stroke-linecap="butt" stroke-linejoin="round"/>
<rect x="1620.60" y="82.00" width="287.80" height="396.90" fill="none" stroke="#000" stroke-width="1.92" stroke-linejoin="miter"/>
<path d="M1631.04 478.90V487.30 M1763.18 478.90V487.30 M1895.32 478.90V487.30 M1620.60 460.86H1612.20 M1620.60 384.33H1612.20 M1620.60 307.81H1612.20 M1620.60 231.28H1612.20 M1620.60 154.76H1612.20" stroke="#000" stroke-width="1.92" fill="none"/>
<polyline points="2022.08,460.86 2024.72,362.47 2027.37,299.50 2030.01,281.79 2032.65,275.88 2035.30,275.10 2037.94,231.41 2040.58,230.62 2043.22,272.34 2045.87,221.18 2048.51,205.83 2051.15,199.14 2053.80,176.71 2056.44,177.49 2059.08,191.66 2061.72,169.62 2064.37,156.24 2067.01,156.24 2069.65,161.75 2072.29,151.91 2074.94,153.88 2077.58,153.71 2080.22,155.02 2082.87,154.32 2085.51,149.99 2088.15,144.99 2090.79,146.01 2093.44,144.87 2096.08,140.74 2098.72,138.70 2101.37,135.97 2104.01,135.13 2106.65,136.59 2109.29,136.17 2111.94,132.23 2114.58,134.00 2117.22,127.27 2119.87,129.51 2122.51,131.22 2125.15,128.91 2127.79,128.76 2130.44,127.39 2133.08,124.39 2135.72,129.26 2138.36,129.35 2141.01,122.98 2143.65,122.58 2146.29,120.14 2148.94,117.92 2151.58,117.69 2154.22,113.72 2156.86,116.07 2159.51,112.71 2162.15,113.88 2164.79,113.79 2167.44,109.12 2170.08,108.72 2172.72,114.14 2175.36,111.97 2178.01,108.47 2180.65,106.47 2183.29,110.27 2185.93,108.99 2188.58,111.66 2191.22,102.47 2193.86,106.99 2196.51,105.84 2199.15,106.18 2201.79,105.34 2204.43,105.89 2207.08,107.86 2209.72,105.17 2212.36,106.50 2215.01,103.49 2217.65,107.95 2220.29,107.29 2222.93,104.30 2225.58,102.64 2228.22,105.00 2230.86,106.71 2233.51,105.08 2236.15,105.69 2238.79,100.04 2241.43,101.97 2244.08,100.89 2246.72,102.89 2249.36,104.67 2252.00,100.53 2254.65,100.04 2257.29,101.62 2259.93,102.89 2262.58,100.21 2265.22,103.41 2267.86,100.63 2270.50,103.83 2273.15,104.19 2275.79,100.32 2278.43,100.39 2281.08,100.04 2283.72,100.04" fill="none" stroke="#1f77b4" stroke-width="4.8" stroke-linejoin="round" stroke-linecap="square"/>
<g fill="#1f77b4"><circle cx="2022.08" cy="460.86" r="6"/><circle cx="2024.72" cy="362.47" r="6"/><circle cx="2027.37" cy="299.50" r="6"/><circle cx="2030.01" cy="281.79" r="6"/><circle cx="2032.65" cy="275.88" r="6"/><circle cx="2035.30" cy="275.10" r="6"/><circle cx="2037.94" cy="231.41" r="6"/><circle cx="2040.58" cy="230.62" r="6"/><circle cx="2043.22" cy="272.34" r="6"/><circle cx="2045.87" cy="221.18" r="6"/><circle cx="2048.51" cy="205.83" r="6"/><circle cx="2051.15" cy="199.14" r="6"/><circle cx="2053.80" cy="176.71" r="6"/><circle cx="2056.44" cy="177.49" r="6"/><circle cx="2059.08" cy="191.66" r="6"/><circle cx="2061.72" cy="169.62" r="6"/><circle cx="2064.37" cy="156.24" r="6"/><circle cx="2067.01" cy="156.24" r="6"/><circle cx="2069.65" cy="161.75" r="6"/><circle cx="2072.29" cy="151.91" r="6"/><circle cx="2074.94" cy="153.88" r="6"/><circle cx="2077.58" cy="153.71" r="6"/><circle cx="2080.22" cy="155.02" r="6"/><circle cx="2082.87" cy="154.32" r="6"/><circle cx="2085.51" cy="149.99" r="6"/><circle cx="2088.15" cy="144.99" r="6"/><circle cx="2090.79" cy="146.01" r="6"/><circle cx="2093.44" cy="144.87" r="6"/><circle cx="2096.08" cy="140.74" r="6"/><circle cx="2098.72" cy="138.70" r="6"/><circle cx="2101.37" cy="135.97" r="6"/><circle cx="2104.01" cy="135.13" r="6"/><circle cx="2106.65" cy="136.59" r="6"/><circle cx="2109.29" cy="136.17" r="6"/><circle cx="2111.94" cy="132.23" r="6"/><circle cx="2114.58" cy="134.00" r="6"/><circle cx="2117.22" cy="127.27" r="6"/><circle cx="2119.87" cy="129.51" r="6"/><circle cx="2122.51" cy="131.22" r="6"/><circle cx="2125.15" cy="128.91" r="6"/><circle cx="2127.79" cy="128.76" r="6"/><circle cx="2130.44" cy="127.39" r="6"/><circle cx="2133.08" cy="124.39" r="6"/><circle cx="2135.72" cy="129.26" r="6"/><circle cx="2138.36" cy="129.35" r="6"/><circle cx="2141.01" cy="122.98" r="6"/><circle cx="2143.65" cy="122.58" r="6"/><circle cx="2146.29" cy="120.14" r="6"/><circle cx="2148.94" cy="117.92" r="6"/><circle cx="2151.58" cy="117.69" r="6"/><circle cx="2154.22" cy="113.72" r="6"/><circle cx="2156.86" cy="116.07" r="6"/><circle cx="2159.51" cy="112.71" r="6"/><circle cx="2162.15" cy="113.88" r="6"/><circle cx="2164.79" cy="113.79" r="6"/><circle cx="2167.44" cy="109.12" r="6"/><circle cx="2170.08" cy="108.72" r="6"/><circle cx="2172.72" cy="114.14" r="6"/><circle cx="2175.36" cy="111.97" r="6"/><circle cx="2178.01" cy="108.47" r="6"/><circle cx="2180.65" cy="106.47" r="6"/><circle cx="2183.29" cy="110.27" r="6"/><circle cx="2185.93" cy="108.99" r="6"/><circle cx="2188.58" cy="111.66" r="6"/><circle cx="2191.22" cy="102.47" r="6"/><circle cx="2193.86" cy="106.99" r="6"/><circle cx="2196.51" cy="105.84" r="6"/><circle cx="2199.15" cy="106.18" r="6"/><circle cx="2201.79" cy="105.34" r="6"/><circle cx="2204.43" cy="105.89" r="6"/><circle cx="2207.08" cy="107.86" r="6"/><circle cx="2209.72" cy="105.17" r="6"/><circle cx="2212.36" cy="106.50" r="6"/><circle cx="2215.01" cy="103.49" r="6"/><circle cx="2217.65" cy="107.95" r="6"/><circle cx="2220.29" cy="107.29" r="6"/><circle cx="2222.93" cy="104.30" r="6"/><circle cx="2225.58" cy="102.64" r="6"/><circle cx="2228.22" cy="105.00" r="6"/><circle cx="2230.86" cy="106.71" r="6"/><circle cx="2233.51" cy="105.08" r="6"/><circle cx="2236.15" cy="105.69" r="6"/><circle cx="2238.79" cy="100.04" r="6"/><circle cx="2241.43" cy="101.97" r="6"/><circle cx="2244.08" cy="100.89" r="6"/><circle cx="2246.72" cy="102.89" r="6"/><circle cx="2249.36" cy="104.67" r="6"/><circle cx="2252.00" cy="100.53" r="6"/><circle cx="2254.65" cy="100.04" r="6"/><circle cx="2257.29" cy="101.62" r="6"/><circle cx="2259.93" cy="102.89" r="6"/><circle cx="2262.58" cy="100.21" r="6"/><circle cx="2265.22" cy="103.41" r="6"/><circle cx="2267.86" cy="100.63" r="6"/><circle cx="2270.50" cy="103.83" r="6"/><circle cx="2273.15" cy="104.19" r="6"/><circle cx="2275.79" cy="100.32" r="6"/><circle cx="2278.43" cy="100.39" r="6"/><circle cx="2281.08" cy="100.04" r="6"/><circle cx="2283.72" cy="100.04" r="6"/></g>
<polyline points="2022.08,347.09 2024.72,339.44 2027.37,325.82 2030.01,308.84 2032.65,291.14 2035.30,274.52 2037.94,259.76 2040.58,246.73 2043.22,234.95 2045.87,223.91 2048.51,213.42 2051.15,203.52 2053.80,194.42 2056.44,186.28 2059.08,179.18 2061.72,173.09 2064.37,167.96 2067.01,163.75 2069.65,160.39 2072.29,157.77 2074.94,155.72 2077.58,154.02 2080.22,152.46 2082.87,150.87 2085.51,149.18 2088.15,147.36 2090.79,145.46 2093.44,143.54 2096.08,141.69 2098.72,139.95 2101.37,138.37 2104.01,136.95 2106.65,135.66 2109.29,134.47 2111.94,133.36 2114.58,132.32 2117.22,131.36 2119.87,130.50 2122.51,129.73 2125.15,129.03 2127.79,128.35 2130.44,127.66 2133.08,126.88 2135.72,125.97 2138.36,124.87 2141.01,123.58 2143.65,122.15 2146.29,120.64 2148.94,119.13 2151.58,117.71 2154.22,116.41 2156.86,115.26 2159.51,114.26 2162.15,113.38 2164.79,112.62 2167.44,111.95 2170.08,111.36 2172.72,110.82 2175.36,110.31 2178.01,109.82 2180.65,109.32 2183.29,108.82 2185.93,108.31 2188.58,107.80 2191.22,107.32 2193.86,106.90 2196.51,106.57 2199.15,106.34 2201.79,106.19 2204.43,106.10 2207.08,106.04 2209.72,105.98 2212.36,105.90 2215.01,105.79 2217.65,105.65 2220.29,105.47 2222.93,105.27 2225.58,105.04 2228.22,104.77 2230.86,104.45 2233.51,104.07 2236.15,103.65 2238.79,103.22 2241.43,102.83 2244.08,102.51 2246.72,102.25 2249.36,102.06 2252.00,101.92 2254.65,101.84 2257.29,101.81 2259.93,101.83 2262.58,101.87 2265.22,101.91 2267.86,101.90 2270.50,101.81 2273.15,101.63 2275.79,101.38 2278.43,101.12 2281.08,100.90 2283.72,100.77" fill="none" stroke="#ff7f0e" stroke-width="4.8" stroke-dasharray="4.80 7.92" stroke-linecap="butt" stroke-linejoin="round"/>
<rect x="2009.00" y="82.00" width="287.80" height="396.90" fill="none" stroke="#000" stroke-width="1.92" stroke-linejoin="miter"/>
<path d="M2019.44 478.90V487.30 M2151.58 478.90V487.30 M2283.72 478.90V487.30 M2009.00 460.86H2000.60 M2009.00 382.15H2000.60 M2009.00 303.43H2000.60 M2009.00 224.72H2000.60 M2009.00 146.01H2000.60" stroke="#000" stroke-width="1.92" fill="none"/>
<polyline points="2410.48,460.86 2413.12,383.65 2415.77,340.84 2418.41,227.70 2421.05,342.37 2423.70,262.10 2426.34,286.95 2428.98,241.08 2431.62,216.24 2434.27,244.90 2436.91,208.59 2439.55,214.33 2442.20,199.04 2444.84,174.19 2447.48,162.73 2450.12,170.37 2452.77,155.08 2455.41,151.26 2458.05,134.82 2460.69,148.35 2463.34,147.70 2465.98,144.23 2468.62,156.99 2471.27,145.49 2473.91,139.33 2476.55,137.40 2479.19,139.79 2481.84,134.87 2484.48,134.44 2487.12,124.12 2489.77,133.00 2492.41,131.77 2495.05,127.96 2497.69,130.06 2500.34,127.30 2502.98,130.01 2505.62,127.86 2508.27,128.76 2510.91,113.04 2513.55,121.43 2516.19,122.44 2518.84,120.06 2521.48,132.15 2524.12,121.97 2526.76,119.73 2529.41,116.24 2532.05,116.07 2534.69,107.30 2537.34,115.06 2539.98,116.72 2542.62,116.29 2545.26,113.05 2547.91,124.12 2550.55,115.02 2553.19,111.38 2555.84,114.53 2558.48,112.90 2561.12,115.74 2563.76,109.69 2566.41,119.23 2569.05,116.50 2571.69,116.13 2574.33,109.78 2576.98,119.53 2579.62,113.64 2582.26,115.67 2584.91,111.45 2587.55,111.38 2590.19,112.50 2592.83,113.60 2595.48,112.08 2598.12,108.43 2600.76,107.56 2603.41,107.55 2606.05,107.72 2608.69,100.04 2611.33,107.19 2613.98,109.68 2616.62,107.21 2619.26,106.23 2621.91,108.88 2624.55,109.77 2627.19,114.18 2629.83,106.83 2632.48,109.15 2635.12,114.56 2637.76,107.71 2640.40,106.05 2643.05,104.82 2645.69,107.30 2648.33,108.71 2650.98,108.17 2653.62,105.15 2656.26,109.69 2658.90,107.15 2661.55,108.90 2664.19,106.02 2666.83,110.07 2669.48,105.46 2672.12,106.16" fill="none" stroke="#1f77b4" stroke-width="4.8" stroke-linejoin="round" stroke-linecap="square"/>
<g fill="#1f77b4"><circle cx="2410.48" cy="460.86" r="6"/><circle cx="2413.12" cy="383.65" r="6"/><circle cx="2415.77" cy="340.84" r="6"/><circle cx="2418.41" cy="227.70" r="6"/><circle cx="2421.05" cy="342.37" r="6"/><circle cx="2423.70" cy="262.10" r="6"/><circle cx="2426.34" cy="286.95" r="6"/><circle cx="2428.98" cy="241.08" r="6"/><circle cx="2431.62" cy="216.24" r="6"/><circle cx="2434.27" cy="244.90" r="6"/><circle cx="2436.91" cy="208.59" r="6"/><circle cx="2439.55" cy="214.33" r="6"/><circle cx="2442.20" cy="199.04" r="6"/><circle cx="2444.84" cy="174.19" r="6"/><circle cx="2447.48" cy="162.73" r="6"/><circle cx="2450.12" cy="170.37" r="6"/><circle cx="2452.77" cy="155.08" r="6"/><circle cx="2455.41" cy="151.26" r="6"/><circle cx="2458.05" cy="134.82" r="6"/><circle cx="2460.69" cy="148.35" r="6"/><circle cx="2463.34" cy="147.70" r="6"/><circle cx="2465.98" cy="144.23" r="6"/><circle cx="2468.62" cy="156.99" r="6"/><circle cx="2471.27" cy="145.49" r="6"/><circle cx="2473.91" cy="139.33" r="6"/><circle cx="2476.55" cy="137.40" r="6"/><circle cx="2479.19" cy="139.79" r="6"/><circle cx="2481.84" cy="134.87" r="6"/><circle cx="2484.48" cy="134.44" r="6"/><circle cx="2487.12" cy="124.12" r="6"/><circle cx="2489.77" cy="133.00" r="6"/><circle cx="2492.41" cy="131.77" r="6"/><circle cx="2495.05" cy="127.96" r="6"/><circle cx="2497.69" cy="130.06" r="6"/><circle cx="2500.34" cy="127.30" r="6"/><circle cx="2502.98" cy="130.01" r="6"/><circle cx="2505.62" cy="127.86" r="6"/><circle cx="2508.27" cy="128.76" r="6"/><circle cx="2510.91" cy="113.04" r="6"/><circle cx="2513.55" cy="121.43" r="6"/><circle cx="2516.19" cy="122.44" r="6"/><circle cx="2518.84" cy="120.06" r="6"/><circle cx="2521.48" cy="132.15" r="6"/><circle cx="2524.12" cy="121.97" r="6"/><circle cx="2526.76" cy="119.73" r="6"/><circle cx="2529.41" cy="116.24" r="6"/><circle cx="2532.05" cy="116.07" r="6"/><circle cx="2534.69" cy="107.30" r="6"/><circle cx="2537.34" cy="115.06" r="6"/><circle cx="2539.98" cy="116.72" r="6"/><circle cx="2542.62" cy="116.29" r="6"/><circle cx="2545.26" cy="113.05" r="6"/><circle cx="2547.91" cy="124.12" r="6"/><circle cx="2550.55" cy="115.02" r="6"/><circle cx="2553.19" cy="111.38" r="6"/><circle cx="2555.84" cy="114.53" r="6"/><circle cx="2558.48" cy="112.90" r="6"/><circle cx="2561.12" cy="115.74" r="6"/><circle cx="2563.76" cy="109.69" r="6"/><circle cx="2566.41" cy="119.23" r="6"/><circle cx="2569.05" cy="116.50" r="6"/><circle cx="2571.69" cy="116.13" r="6"/><circle cx="2574.33" cy="109.78" r="6"/><circle cx="2576.98" cy="119.53" r="6"/><circle cx="2579.62" cy="113.64" r="6"/><circle cx="2582.26" cy="115.67" r="6"/><circle cx="2584.91" cy="111.45" r="6"/><circle cx="2587.55" cy="111.38" r="6"/><circle cx="2590.19" cy="112.50" r="6"/><circle cx="2592.83" cy="113.60" r="6"/><circle cx="2595.48" cy="112.08" r="6"/><circle cx="2598.12" cy="108.43" r="6"/><circle cx="2600.76" cy="107.56" r="6"/><circle cx="2603.41" cy="107.55" r="6"/><circle cx="2606.05" cy="107.72" r="6"/><circle cx="2608.69" cy="100.04" r="6"/><circle cx="2611.33" cy="107.19" r="6"/><circle cx="2613.98" cy="109.68" r="6"/><circle cx="2616.62" cy="107.21" r="6"/><circle cx="2619.26" cy="106.23" r="6"/><circle cx="2621.91" cy="108.88" r="6"/><circle cx="2624.55" cy="109.77" r="6"/><circle cx="2627.19" cy="114.18" r="6"/><circle cx="2629.83" cy="106.83" r="6"/><circle cx="2632.48" cy="109.15" r="6"/><circle cx="2635.12" cy="114.56" r="6"/><circle cx="2637.76" cy="107.71" r="6"/><circle cx="2640.40" cy="106.05" r="6"/><circle cx="2643.05" cy="104.82" r="6"/><circle cx="2645.69" cy="107.30" r="6"/><circle cx="2648.33" cy="108.71" r="6"/><circle cx="2650.98" cy="108.17" r="6"/><circle cx="2653.62" cy="105.15" r="6"/><circle cx="2656.26" cy="109.69" r="6"/><circle cx="2658.90" cy="107.15" r="6"/><circle cx="2661.55" cy="108.90" r="6"/><circle cx="2664.19" cy="106.02" r="6"/><circle cx="2666.83" cy="110.07" r="6"/><circle cx="2669.48" cy="105.46" r="6"/><circle cx="2672.12" cy="106.16" r="6"/></g>
<polyline points="2410.48,358.98 2413.12,351.46 2415.77,338.00 2418.41,321.05 2421.05,303.01 2423.70,285.57 2426.34,269.48 2428.98,254.87 2431.62,241.53 2434.27,229.14 2436.91,217.44 2439.55,206.29 2442.20,195.65 2444.84,185.65 2447.48,176.53 2450.12,168.53 2452.77,161.84 2455.41,156.55 2458.05,152.62 2460.69,149.86 2463.34,147.92 2465.98,146.44 2468.62,145.04 2471.27,143.49 2473.91,141.72 2476.55,139.76 2479.19,137.76 2481.84,135.84 2484.48,134.12 2487.12,132.67 2489.77,131.48 2492.41,130.50 2495.05,129.66 2497.69,128.83 2500.34,127.95 2502.98,126.97 2505.62,125.92 2508.27,124.88 2510.91,123.96 2513.55,123.22 2516.19,122.62 2518.84,122.03 2521.48,121.33 2524.12,120.40 2526.76,119.27 2529.41,118.08 2532.05,117.01 2534.69,116.22 2537.34,115.75 2539.98,115.58 2542.62,115.56 2545.26,115.57 2547.91,115.49 2550.55,115.31 2553.19,115.06 2555.84,114.82 2558.48,114.67 2561.12,114.63 2563.76,114.69 2566.41,114.79 2569.05,114.85 2571.69,114.84 2574.33,114.71 2576.98,114.47 2579.62,114.12 2582.26,113.68 2584.91,113.16 2587.55,112.57 2590.19,111.91 2592.83,111.17 2595.48,110.36 2598.12,109.50 2600.76,108.67 2603.41,107.96 2606.05,107.44 2608.69,107.18 2611.33,107.17 2613.98,107.38 2616.62,107.76 2619.26,108.21 2621.91,108.66 2624.55,109.04 2627.19,109.28 2629.83,109.35 2632.48,109.23 2635.12,108.95 2637.76,108.57 2640.40,108.19 2643.05,107.87 2645.69,107.66 2648.33,107.55 2650.98,107.54 2653.62,107.56 2656.26,107.59 2658.90,107.58 2661.55,107.52 2664.19,107.42 2666.83,107.29 2669.48,107.17 2672.12,107.10" fill="none" stroke="#ff7f0e" stroke-width="4.8" stroke-dasharray="4.80 7.92" stroke-linecap="butt" stroke-linejoin="round"/>
<rect x="2397.40" y="82.00" width="287.80" height="396.90" fill="none" stroke="#000" stroke-width="1.92" stroke-linejoin="miter"/>
<path d="M2407.84 478.90V487.30 M2539.98 478.90V487.30 M2672.12 478.90V487.30 M2397.40 460.86H2389.00 M2397.40 384.41H2389.00 M2397.40 307.97H2389.00 M2397.40 231.53H2389.00 M2397.40 155.08H2389.00" stroke="#000" stroke-width="1.92" fill="none"/>
<polyline points="2798.88,460.86 2801.52,382.86 2804.17,288.63 2806.81,334.55 2809.45,262.89 2812.10,286.65 2814.74,227.26 2817.38,223.30 2820.02,291.40 2822.67,227.26 2825.31,199.54 2827.95,219.34 2830.60,199.54 2833.24,187.66 2835.88,173.01 2838.52,175.78 2841.17,187.66 2843.81,154.01 2846.45,167.89 2849.09,158.36 2851.74,160.05 2854.38,165.09 2857.02,157.05 2859.67,150.92 2862.31,147.22 2864.95,149.95 2867.59,145.83 2870.24,139.69 2872.88,140.79 2875.52,141.26 2878.17,139.41 2880.81,139.33 2883.45,125.50 2886.09,133.55 2888.74,128.22 2891.38,127.69 2894.02,134.21 2896.67,129.75 2899.31,126.34 2901.95,127.34 2904.59,138.57 2907.24,129.97 2909.88,122.94 2912.52,125.66 2915.16,127.45 2917.81,122.23 2920.45,118.19 2923.09,112.67 2925.74,116.91 2928.38,118.06 2931.02,109.17 2933.66,112.85 2936.31,113.15 2938.95,114.57 2941.59,114.16 2944.24,108.29 2946.88,104.52 2949.52,112.66 2952.16,118.37 2954.81,107.30 2957.45,111.85 2960.09,108.59 2962.73,108.97 2965.38,117.98 2968.02,110.86 2970.66,106.99 2973.31,102.14 2975.95,107.97 2978.59,109.62 2981.23,110.11 2983.88,106.33 2986.52,107.05 2989.16,106.39 2991.81,113.23 2994.45,109.13 2997.09,103.77 2999.73,104.88 3002.38,105.47 3005.02,110.06 3007.66,103.01 3010.31,104.96 3012.95,106.95 3015.59,102.17 3018.23,105.50 3020.88,105.67 3023.52,107.07 3026.16,103.05 3028.80,105.29 3031.45,103.97 3034.09,109.66 3036.73,102.55 3039.38,100.22 3042.02,101.77 3044.66,103.29 3047.30,103.01 3049.95,103.34 3052.59,102.14 3055.23,102.45 3057.88,100.04 3060.52,104.52" fill="none" stroke="#1f77b4" stroke-width="4.8" stroke-linejoin="round" stroke-linecap="square"/>
<g fill="#1f77b4"><circle cx="2798.88" cy="460.86" r="6"/><circle cx="2801.52" cy="382.86" r="6"/><circle cx="2804.17" cy="288.63" r="6"/><circle cx="2806.81" cy="334.55" r="6"/><circle cx="2809.45" cy="262.89" r="6"/><circle cx="2812.10" cy="286.65" r="6"/><circle cx="2814.74" cy="227.26" r="6"/><circle cx="2817.38" cy="223.30" r="6"/><circle cx="2820.02" cy="291.40" r="6"/><circle cx="2822.67" cy="227.26" r="6"/><circle cx="2825.31" cy="199.54" r="6"/><circle cx="2827.95" cy="219.34" r="6"/><circle cx="2830.60" cy="199.54" r="6"/><circle cx="2833.24" cy="187.66" r="6"/><circle cx="2835.88" cy="173.01" r="6"/><circle cx="2838.52" cy="175.78" r="6"/><circle cx="2841.17" cy="187.66" r="6"/><circle cx="2843.81" cy="154.01" r="6"/><circle cx="2846.45" cy="167.89" r="6"/><circle cx="2849.09" cy="158.36" r="6"/><circle cx="2851.74" cy="160.05" r="6"/><circle cx="2854.38" cy="165.09" r="6"/><circle cx="2857.02" cy="157.05" r="6"/><circle cx="2859.67" cy="150.92" r="6"/><circle cx="2862.31" cy="147.22" r="6"/><circle cx="2864.95" cy="149.95" r="6"/><circle cx="2867.59" cy="145.83" r="6"/><circle cx="2870.24" cy="139.69" r="6"/><circle cx="2872.88" cy="140.79" r="6"/><circle cx="2875.52" cy="141.26" r="6"/><circle cx="2878.17" cy="139.41" r="6"/><circle cx="2880.81" cy="139.33" r="6"/><circle cx="2883.45" cy="125.50" r="6"/><circle cx="2886.09" cy="133.55" r="6"/><circle cx="2888.74" cy="128.22" r="6"/><circle cx="2891.38" cy="127.69" r="6"/><circle cx="2894.02" cy="134.21" r="6"/><circle cx="2896.67" cy="129.75" r="6"/><circle cx="2899.31" cy="126.34" r="6"/><circle cx="2901.95" cy="127.34" r="6"/><circle cx="2904.59" cy="138.57" r="6"/><circle cx="2907.24" cy="129.97" r="6"/><circle cx="2909.88" cy="122.94" r="6"/><circle cx="2912.52" cy="125.66" r="6"/><circle cx="2915.16" cy="127.45" r="6"/><circle cx="2917.81" cy="122.23" r="6"/><circle cx="2920.45" cy="118.19" r="6"/><circle cx="2923.09" cy="112.67" r="6"/><circle cx="2925.74" cy="116.91" r="6"/><circle cx="2928.38" cy="118.06" r="6"/><circle cx="2931.02" cy="109.17" r="6"/><circle cx="2933.66" cy="112.85" r="6"/><circle cx="2936.31" cy="113.15" r="6"/><circle cx="2938.95" cy="114.57" r="6"/><circle cx="2941.59" cy="114.16" r="6"/><circle cx="2944.24" cy="108.29" r="6"/><circle cx="2946.88" cy="104.52" r="6"/><circle cx="2949.52" cy="112.66" r="6"/><circle cx="2952.16" cy="118.37" r="6"/><circle cx="2954.81" cy="107.30" r="6"/><circle cx="2957.45" cy="111.85" r="6"/><circle cx="2960.09" cy="108.59" r="6"/><circle cx="2962.73" cy="108.97" r="6"/><circle cx="2965.38" cy="117.98" r="6"/><circle cx="2968.02" cy="110.86" r="6"/><circle cx="2970.66" cy="106.99" r="6"/><circle cx="2973.31" cy="102.14" r="6"/><circle cx="2975.95" cy="107.97" r="6"/><circle cx="2978.59" cy="109.62" r="6"/><circle cx="2981.23" cy="110.11" r="6"/><circle cx="2983.88" cy="106.33" r="6"/><circle cx="2986.52" cy="107.05" r="6"/><circle cx="2989.16" cy="106.39" r="6"/><circle cx="2991.81" cy="113.23" r="6"/><circle cx="2994.45" cy="109.13" r="6"/><circle cx="2997.09" cy="103.77" r="6"/><circle cx="2999.73" cy="104.88" r="6"/><circle cx="3002.38" cy="105.47" r="6"/><circle cx="3005.02" cy="110.06" r="6"/><circle cx="3007.66" cy="103.01" r="6"/><circle cx="3010.31" cy="104.96" r="6"/><circle cx="3012.95" cy="106.95" r="6"/><circle cx="3015.59" cy="102.17" r="6"/><circle cx="3018.23" cy="105.50" r="6"/><circle cx="3020.88" cy="105.67" r="6"/><circle cx="3023.52" cy="107.07" r="6"/><circle cx="3026.16" cy="103.05" r="6"/><circle cx="3028.80" cy="105.29" r="6"/><circle cx="3031.45" cy="103.97" r="6"/><circle cx="3034.09" cy="109.66" r="6"/><circle cx="3036.73" cy="102.55" r="6"/><circle cx="3039.38" cy="100.22" r="6"/><circle cx="3042.02" cy="101.77" r="6"/><circle cx="3044.66" cy="103.29" r="6"/><circle cx="3047.30" cy="103.01" r="6"/><circle cx="3049.95" cy="103.34" r="6"/><circle cx="3052.59" cy="102.14" r="6"/><circle cx="3055.23" cy="102.45" r="6"/><circle cx="3057.88" cy="100.04" r="6"/><circle cx="3060.52" cy="104.52" r="6"/></g>
<polyline points="2798.88,356.29 2801.52,348.57 2804.17,334.69 2806.81,317.23 2809.45,298.81 2812.10,281.43 2814.74,266.08 2817.38,252.83 2820.02,241.23 2822.67,230.67 2825.31,220.72 2827.95,211.23 2830.60,202.31 2833.24,194.14 2835.88,186.88 2838.52,180.61 2841.17,175.28 2843.81,170.80 2846.45,167.04 2849.09,163.81 2851.74,160.96 2854.38,158.30 2857.02,155.71 2859.67,153.14 2862.31,150.61 2864.95,148.15 2867.59,145.83 2870.24,143.64 2872.88,141.56 2875.52,139.57 2878.17,137.66 2880.81,135.85 2883.45,134.20 2886.09,132.81 2888.74,131.72 2891.38,130.93 2894.02,130.40 2896.67,130.02 2899.31,129.68 2901.95,129.24 2904.59,128.60 2907.24,127.69 2909.88,126.48 2912.52,125.00 2915.16,123.32 2917.81,121.54 2920.45,119.77 2923.09,118.12 2925.74,116.67 2928.38,115.44 2931.02,114.44 2933.66,113.63 2936.31,112.96 2938.95,112.40 2941.59,111.94 2944.24,111.58 2946.88,111.34 2949.52,111.19 2952.16,111.11 2954.81,111.04 2957.45,110.93 2960.09,110.74 2962.73,110.45 2965.38,110.05 2968.02,109.56 2970.66,109.06 2973.31,108.61 2975.95,108.29 2978.59,108.10 2981.23,108.02 2983.88,107.98 2986.52,107.93 2989.16,107.82 2991.81,107.62 2994.45,107.33 2997.09,106.99 2999.73,106.62 3002.38,106.27 3005.02,105.96 3007.66,105.70 3010.31,105.49 3012.95,105.33 3015.59,105.22 3018.23,105.16 3020.88,105.11 3023.52,105.05 3026.16,104.95 3028.80,104.78 3031.45,104.52 3034.09,104.18 3036.73,103.80 3039.38,103.43 3042.02,103.12 3044.66,102.88 3047.30,102.72 3049.95,102.62 3052.59,102.56 3055.23,102.52 3057.88,102.51 3060.52,102.50" fill="none" stroke="#ff7f0e" stroke-width="4.8" stroke-dasharray="4.80 7.92" stroke-linecap="butt" stroke-linejoin="round"/>
<rect x="2785.80" y="82.00" width="287.80" height="396.90" fill="none" stroke="#000" stroke-width="1.92" stroke-linejoin="miter"/>
<path d="M2796.24 478.90V487.30 M2928.38 478.90V487.30 M3060.52 478.90V487.30 M2785.80 460.86H2777.40 M2785.80 381.67H2777.40 M2785.80 302.48H2777.40 M2785.80 223.30H2777.40 M2785.80 144.11H2777.40" stroke="#000" stroke-width="1.92" fill="none"/>
<polyline points="80.08,603.99 82.72,804.88 85.37,815.45 88.01,833.07 90.65,847.84 93.30,858.03 95.94,864.98 98.58,870.98 101.22,866.03 103.87,889.94 106.51,892.70 109.15,895.56 111.80,897.47 114.44,908.90 117.08,902.23 119.72,895.94 122.37,900.32 125.01,903.66 127.65,909.85 130.29,916.52 132.94,918.77 135.58,921.22 138.22,920.02 140.87,925.09 143.51,924.10 146.15,925.28 148.79,924.92 151.44,927.18 154.08,929.52 156.72,931.15 159.37,931.20 162.01,931.01 164.65,931.89 167.29,932.98 169.94,934.33 172.58,934.40 175.22,933.50 177.87,936.90 180.51,936.10 183.15,934.75 185.79,936.88 188.44,938.98 191.08,938.33 193.72,940.99 196.36,940.83 199.01,939.64 201.65,940.02 204.29,945.50 206.94,943.15 209.58,944.81 212.22,946.25 214.86,945.96 217.51,945.08 220.15,948.41 222.79,947.90 225.44,949.24 228.08,952.30 230.72,949.93 233.36,951.14 236.01,950.15 238.65,949.05 241.29,951.25 243.93,952.97 246.58,952.24 249.22,952.88 251.86,952.14 254.51,955.66 257.15,955.65 259.79,957.16 262.43,954.09 265.08,955.30 267.72,956.51 270.36,957.02 273.01,957.23 275.65,958.09 278.29,957.70 280.93,958.30 283.58,956.23 286.22,957.97 288.86,959.81 291.51,959.85 294.15,957.87 296.79,959.17 299.43,959.70 302.08,959.47 304.72,958.67 307.36,962.62 310.00,962.31 312.65,963.89 315.29,961.23 317.93,962.60 320.58,963.20 323.22,963.55 325.86,961.91 328.50,963.28 331.15,964.10 333.79,962.16 336.43,965.62 339.08,965.81 341.72,965.81" fill="none" stroke="#1f77b4" stroke-width="4.8" stroke-linejoin="round" stroke-linecap="square"/>
<g fill="#1f77b4"><circle cx="80.08" cy="603.99" r="6"/><circle cx="82.72" cy="804.88" r="6"/><circle cx="85.37" cy="815.45" r="6"/><circle cx="88.01" cy="833.07" r="6"/><circle cx="90.65" cy="847.84" r="6"/><circle cx="93.30" cy="858.03" r="6"/><circle cx="95.94" cy="864.98" r="6"/><circle cx="98.58" cy="870.98" r="6"/><circle cx="101.22" cy="866.03" r="6"/><circle cx="103.87" cy="889.94" r="6"/><circle cx="106.51" cy="892.70" r="6"/><circle cx="109.15" cy="895.56" r="6"/><circle cx="111.80" cy="897.47" r="6"/><circle cx="114.44" cy="908.90" r="6"/><circle cx="117.08" cy="902.23" r="6"/><circle cx="119.72" cy="895.94" r="6"/><circle cx="122.37" cy="900.32" r="6"/><circle cx="125.01" cy="903.66" r="6"/><circle cx="127.65" cy="909.85" r="6"/><circle cx="130.29" cy="916.52" r="6"/><circle cx="132.94" cy="918.77" r="6"/><circle cx="135.58" cy="921.22" r="6"/><circle cx="138.22" cy="920.02" r="6"/><circle cx="140.87" cy="925.09" r="6"/><circle cx="143.51" cy="924.10" r="6"/><circle cx="146.15" cy="925.28" r="6"/><circle cx="148.79" cy="924.92" r="6"/><circle cx="151.44" cy="927.18" r="6"/><circle cx="154.08" cy="929.52" r="6"/><circle cx="156.72" cy="931.15" r="6"/><circle cx="159.37" cy="931.20" r="6"/><circle cx="162.01" cy="931.01" r="6"/><circle cx="164.65" cy="931.89" r="6"/><circle cx="167.29" cy="932.98" r="6"/><circle cx="169.94" cy="934.33" r="6"/><circle cx="172.58" cy="934.40" r="6"/><circle cx="175.22" cy="933.50" r="6"/><circle cx="177.87" cy="936.90" r="6"/><circle cx="180.51" cy="936.10" r="6"/><circle cx="183.15" cy="934.75" r="6"/><circle cx="185.79" cy="936.88" r="6"/><circle cx="188.44" cy="938.98" r="6"/><circle cx="191.08" cy="938.33" r="6"/><circle cx="193.72" cy="940.99" r="6"/><circle cx="196.36" cy="940.83" r="6"/><circle cx="199.01" cy="939.64" r="6"/><circle cx="201.65" cy="940.02" r="6"/><circle cx="204.29" cy="945.50" r="6"/><circle cx="206.94" cy="943.15" r="6"/><circle cx="209.58" cy="944.81" r="6"/><circle cx="212.22" cy="946.25" r="6"/><circle cx="214.86" cy="945.96" r="6"/><circle cx="217.51" cy="945.08" r="6"/><circle cx="220.15" cy="948.41" r="6"/><circle cx="222.79" cy="947.90" r="6"/><circle cx="225.44" cy="949.24" r="6"/><circle cx="228.08" cy="952.30" r="6"/><circle cx="230.72" cy="949.93" r="6"/><circle cx="233.36" cy="951.14" r="6"/><circle cx="236.01" cy="950.15" r="6"/><circle cx="238.65" cy="949.05" r="6"/><circle cx="241.29" cy="951.25" r="6"/><circle cx="243.93" cy="952.97" r="6"/><circle cx="246.58" cy="952.24" r="6"/><circle cx="249.22" cy="952.88" r="6"/><circle cx="251.86" cy="952.14" r="6"/><circle cx="254.51" cy="955.66" r="6"/><circle cx="257.15" cy="955.65" r="6"/><circle cx="259.79" cy="957.16" r="6"/><circle cx="262.43" cy="954.09" r="6"/><circle cx="265.08" cy="955.30" r="6"/><circle cx="267.72" cy="956.51" r="6"/><circle cx="270.36" cy="957.02" r="6"/><circle cx="273.01" cy="957.23" r="6"/><circle cx="275.65" cy="958.09" r="6"/><circle cx="278.29" cy="957.70" r="6"/><circle cx="280.93" cy="958.30" r="6"/><circle cx="283.58" cy="956.23" r="6"/><circle cx="286.22" cy="957.97" r="6"/><circle cx="288.86" cy="959.81" r="6"/><circle cx="291.51" cy="959.85" r="6"/><circle cx="294.15" cy="957.87" r="6"/><circle cx="296.79" cy="959.17" r="6"/><circle cx="299.43" cy="959.70" r="6"/><circle cx="302.08" cy="959.47" r="6"/><circle cx="304.72" cy="958.67" r="6"/><circle cx="307.36" cy="962.62" r="6"/><circle cx="310.00" cy="962.31" r="6"/><circle cx="312.65" cy="963.89" r="6"/><circle cx="315.29" cy="961.23" r="6"/><circle cx="317.93" cy="962.60" r="6"/><circle cx="320.58" cy="963.20" r="6"/><circle cx="323.22" cy="963.55" r="6"/><circle cx="325.86" cy="961.91" r="6"/><circle cx="328.50" cy="963.28" r="6"/><circle cx="331.15" cy="964.10" r="6"/><circle cx="333.79" cy="962.16" r="6"/><circle cx="336.43" cy="965.62" r="6"/><circle cx="339.08" cy="965.81" r="6"/><circle cx="341.72" cy="965.81" r="6"/></g>
<polyline points="80.08,768.19 82.72,776.28 85.37,790.53 88.01,807.90 90.65,825.45 93.30,841.19 95.94,854.30 98.58,864.89 101.22,873.44 103.87,880.47 106.51,886.30 109.15,891.09 111.80,894.94 114.44,898.00 117.08,900.51 119.72,902.78 122.37,905.08 125.01,907.57 127.65,910.27 130.29,913.05 132.94,915.74 135.58,918.20 138.22,920.33 140.87,922.14 143.51,923.68 146.15,925.04 148.79,926.28 151.44,927.44 154.08,928.54 156.72,929.56 159.37,930.49 162.01,931.34 164.65,932.12 167.29,932.83 169.94,933.50 172.58,934.14 175.22,934.76 177.87,935.38 180.51,936.02 183.15,936.68 185.79,937.38 188.44,938.12 191.08,938.88 193.72,939.65 196.36,940.43 199.01,941.23 201.65,942.04 204.29,942.87 206.94,943.70 209.58,944.51 212.22,945.30 214.86,946.07 217.51,946.83 220.15,947.58 222.79,948.29 225.44,948.95 228.08,949.51 230.72,949.98 233.36,950.37 236.01,950.73 238.65,951.10 241.29,951.52 243.93,952.00 246.58,952.54 249.22,953.11 251.86,953.69 254.51,954.25 257.15,954.76 259.79,955.22 262.43,955.63 265.08,956.01 267.72,956.36 270.36,956.70 273.01,957.02 275.65,957.31 278.29,957.57 280.93,957.82 283.58,958.06 286.22,958.31 288.86,958.56 291.51,958.82 294.15,959.10 296.79,959.41 299.43,959.77 302.08,960.18 304.72,960.64 307.36,961.12 310.00,961.57 312.65,961.97 315.29,962.29 317.93,962.55 320.58,962.78 323.22,962.99 325.86,963.22 328.50,963.49 331.15,963.80 333.79,964.13 336.43,964.45 339.08,964.70 341.72,964.84" fill="none" stroke="#ff7f0e" stroke-width="4.8" stroke-dasharray="4.80 7.92" stroke-linecap="butt" stroke-linejoin="round"/>
<rect x="67.00" y="585.90" width="287.80" height="398.00" fill="none" stroke="#000" stroke-width="1.92" stroke-linejoin="miter"/>
<path d="M77.44 983.90V992.30 M209.58 983.90V992.30 M341.72 983.90V992.30 M67.00 968.90H58.60 M67.00 873.65H58.60 M67.00 778.40H58.60 M67.00 683.15H58.60 M67.00 587.89H58.60" stroke="#000" stroke-width="1.92" fill="none"/>
<polyline points="468.48,603.99 471.12,804.90 473.77,847.84 476.41,868.65 479.05,871.00 481.70,887.22 484.34,896.40 486.98,898.75 489.62,901.56 492.27,902.50 494.91,903.44 497.55,898.75 500.20,914.87 502.84,916.56 505.48,908.40 508.12,916.78 510.77,919.03 513.41,920.18 516.05,922.48 518.69,925.10 521.34,925.43 523.98,925.36 526.62,927.34 529.27,930.58 531.91,932.16 534.55,932.94 537.19,934.16 539.84,933.65 542.48,934.01 545.12,935.30 547.77,936.32 550.41,937.41 553.05,938.78 555.69,940.47 558.34,938.17 560.98,948.53 563.62,943.23 566.27,943.84 568.91,943.88 571.55,943.44 574.19,935.87 576.84,942.82 579.48,950.78 582.12,943.63 584.76,944.18 587.41,945.26 590.05,946.24 592.69,947.58 595.34,950.34 597.98,948.90 600.62,947.00 603.26,950.55 605.91,951.05 608.55,949.25 611.19,950.75 613.84,951.76 616.48,951.44 619.12,950.93 621.76,951.05 624.41,953.07 627.05,952.01 629.69,952.52 632.33,952.42 634.98,952.41 637.62,952.91 640.26,954.59 642.91,954.27 645.55,961.47 648.19,954.93 650.83,955.15 653.48,956.82 656.12,957.61 658.76,956.96 661.41,958.75 664.05,957.03 666.69,957.81 669.33,959.47 671.98,958.67 674.62,957.86 677.26,958.35 679.91,958.82 682.55,960.67 685.19,961.22 687.83,961.57 690.48,960.55 693.12,958.50 695.76,959.94 698.40,959.88 701.05,960.38 703.69,964.43 706.33,962.84 708.98,963.41 711.62,961.51 714.26,961.25 716.90,964.64 719.55,964.08 722.19,963.79 724.83,965.56 727.48,965.81 730.12,965.81" fill="none" stroke="#1f77b4" stroke-width="4.8" stroke-linejoin="round" stroke-linecap="square"/>
<g fill="#1f77b4"><circle cx="468.48" cy="603.99" r="6"/><circle cx="471.12" cy="804.90" r="6"/><circle cx="473.77" cy="847.84" r="6"/><circle cx="476.41" cy="868.65" r="6"/><circle cx="479.05" cy="871.00" r="6"/><circle cx="481.70" cy="887.22" r="6"/><circle cx="484.34" cy="896.40" r="6"/><circle cx="486.98" cy="898.75" r="6"/><circle cx="489.62" cy="901.56" r="6"/><circle cx="492.27" cy="902.50" r="6"/><circle cx="494.91" cy="903.44" r="6"/><circle cx="497.55" cy="898.75" r="6"/><circle cx="500.20" cy="914.87" r="6"/><circle cx="502.84" cy="916.56" r="6"/><circle cx="505.48" cy="908.40" r="6"/><circle cx="508.12" cy="916.78" r="6"/><circle cx="510.77" cy="919.03" r="6"/><circle cx="513.41" cy="920.18" r="6"/><circle cx="516.05" cy="922.48" r="6"/><circle cx="518.69" cy="925.10" r="6"/><circle cx="521.34" cy="925.43" r="6"/><circle cx="523.98" cy="925.36" r="6"/><circle cx="526.62" cy="927.34" r="6"/><circle cx="529.27" cy="930.58" r="6"/><circle cx="531.91" cy="932.16" r="6"/><circle cx="534.55" cy="932.94" r="6"/><circle cx="537.19" cy="934.16" r="6"/><circle cx="539.84" cy="933.65" r="6"/><circle cx="542.48" cy="934.01" r="6"/><circle cx="545.12" cy="935.30" r="6"/><circle cx="547.77" cy="936.32" r="6"/><circle cx="550.41" cy="937.41" r="6"/><circle cx="553.05" cy="938.78" r="6"/><circle cx="555.69" cy="940.47" r="6"/><circle cx="558.34" cy="938.17" r="6"/><circle cx="560.98" cy="948.53" r="6"/><circle cx="563.62" cy="943.23" r="6"/><circle cx="566.27" cy="943.84" r="6"/><circle cx="568.91" cy="943.88" r="6"/><circle cx="571.55" cy="943.44" r="6"/><circle cx="574.19" cy="935.87" r="6"/><circle cx="576.84" cy="942.82" r="6"/><circle cx="579.48" cy="950.78" r="6"/><circle cx="582.12" cy="943.63" r="6"/><circle cx="584.76" cy="944.18" r="6"/><circle cx="587.41" cy="945.26" r="6"/><circle cx="590.05" cy="946.24" r="6"/><circle cx="592.69" cy="947.58" r="6"/><circle cx="595.34" cy="950.34" r="6"/><circle cx="597.98" cy="948.90" r="6"/><circle cx="600.62" cy="947.00" r="6"/><circle cx="603.26" cy="950.55" r="6"/><circle cx="605.91" cy="951.05" r="6"/><circle cx="608.55" cy="949.25" r="6"/><circle cx="611.19" cy="950.75" r="6"/><circle cx="613.84" cy="951.76" r="6"/><circle cx="616.48" cy="951.44" r="6"/><circle cx="619.12" cy="950.93" r="6"/><circle cx="621.76" cy="951.05" r="6"/><circle cx="624.41" cy="953.07" r="6"/><circle cx="627.05" cy="952.01" r="6"/><circle cx="629.69" cy="952.52" r="6"/><circle cx="632.33" cy="952.42" r="6"/><circle cx="634.98" cy="952.41" r="6"/><circle cx="637.62" cy="952.91" r="6"/><circle cx="640.26" cy="954.59" r="6"/><circle cx="642.91" cy="954.27" r="6"/><circle cx="645.55" cy="961.47" r="6"/><circle cx="648.19" cy="954.93" r="6"/><circle cx="650.83" cy="955.15" r="6"/><circle cx="653.48" cy="956.82" r="6"/><circle cx="656.12" cy="957.61" r="6"/><circle cx="658.76" cy="956.96" r="6"/><circle cx="661.41" cy="958.75" r="6"/><circle cx="664.05" cy="957.03" r="6"/><circle cx="666.69" cy="957.81" r="6"/><circle cx="669.33" cy="959.47" r="6"/><circle cx="671.98" cy="958.67" r="6"/><circle cx="674.62" cy="957.86" r="6"/><circle cx="677.26" cy="958.35" r="6"/><circle cx="679.91" cy="958.82" r="6"/><circle cx="682.55" cy="960.67" r="6"/><circle cx="685.19" cy="961.22" r="6"/><circle cx="687.83" cy="961.57" r="6"/><circle cx="690.48" cy="960.55" r="6"/><circle cx="693.12" cy="958.50" r="6"/><circle cx="695.76" cy="959.94" r="6"/><circle cx="698.40" cy="959.88" r="6"/><circle cx="701.05" cy="960.38" r="6"/><circle cx="703.69" cy="964.43" r="6"/><circle cx="706.33" cy="962.84" r="6"/><circle cx="708.98" cy="963.41" r="6"/><circle cx="711.62" cy="961.51" r="6"/><circle cx="714.26" cy="961.25" r="6"/><circle cx="716.90" cy="964.64" r="6"/><circle cx="719.55" cy="964.08" r="6"/><circle cx="722.19" cy="963.79" r="6"/><circle cx="724.83" cy="965.56" r="6"/><circle cx="727.48" cy="965.81" r="6"/><circle cx="730.12" cy="965.81" r="6"/></g>
<polyline points="468.48,784.01 471.12,793.34 473.77,809.67 476.41,829.37 479.05,848.86 481.70,865.66 484.34,878.76 486.98,888.28 489.62,894.98 492.27,899.74 494.91,903.32 497.55,906.25 500.20,908.86 502.84,911.29 505.48,913.59 508.12,915.79 510.77,917.87 513.41,919.83 516.05,921.68 518.69,923.41 521.34,925.05 523.98,926.59 526.62,928.06 529.27,929.45 531.91,930.73 534.55,931.90 537.19,932.95 539.84,933.91 542.48,934.84 545.12,935.79 547.77,936.79 550.41,937.84 553.05,938.93 555.69,940.00 558.34,940.97 560.98,941.77 563.62,942.34 566.27,942.72 568.91,942.97 571.55,943.19 574.19,943.46 576.84,943.84 579.48,944.32 582.12,944.88 584.76,945.48 587.41,946.11 590.05,946.74 592.69,947.37 595.34,947.97 597.98,948.52 600.62,949.03 603.26,949.48 605.91,949.89 608.55,950.27 611.19,950.60 613.84,950.91 616.48,951.20 619.12,951.46 621.76,951.72 624.41,951.99 627.05,952.28 629.69,952.61 632.33,953.01 634.98,953.48 637.62,954.03 640.26,954.62 642.91,955.19 645.55,955.71 648.19,956.15 650.83,956.51 653.48,956.82 656.12,957.10 658.76,957.36 661.41,957.62 664.05,957.86 666.69,958.10 669.33,958.34 671.98,958.58 674.62,958.85 677.26,959.14 679.91,959.45 682.55,959.73 685.19,959.97 687.83,960.17 690.48,960.33 693.12,960.51 695.76,960.75 698.40,961.05 701.05,961.41 703.69,961.80 706.33,962.17 708.98,962.52 711.62,962.86 714.26,963.21 716.90,963.58 719.55,963.97 722.19,964.35 724.83,964.69 727.48,964.94 730.12,965.08" fill="none" stroke="#ff7f0e" stroke-width="4.8" stroke-dasharray="4.80 7.92" stroke-linecap="butt" stroke-linejoin="round"/>
<rect x="455.40" y="585.90" width="287.80" height="398.00" fill="none" stroke="#000" stroke-width="1.92" stroke-linejoin="miter"/>
<path d="M465.84 983.90V992.30 M597.98 983.90V992.30 M730.12 983.90V992.30 M455.40 899.69H447.00 M455.40 805.93H447.00 M455.40 712.18H447.00 M455.40 618.43H447.00" stroke="#000" stroke-width="1.92" fill="none"/>
<polyline points="856.88,603.99 859.52,816.83 862.17,848.75 864.81,867.30 867.45,881.56 870.10,889.47 872.74,901.07 875.38,899.74 878.02,890.87 880.67,904.91 883.31,907.87 885.95,913.04 888.60,919.47 891.24,923.47 893.88,923.61 896.52,915.41 899.17,926.20 901.81,932.60 904.45,930.28 907.09,932.70 909.74,937.01 912.38,939.11 915.02,933.07 917.67,940.28 920.31,940.63 922.95,940.66 925.59,943.13 928.24,943.24 930.88,943.55 933.52,943.67 936.17,943.17 938.81,946.08 941.45,946.39 944.09,947.63 946.74,944.85 949.38,947.65 952.02,948.43 954.67,950.87 957.31,948.88 959.95,951.30 962.59,951.26 965.24,952.73 967.88,951.94 970.52,946.59 973.16,953.73 975.81,953.29 978.45,952.73 981.09,954.98 983.74,955.77 986.38,955.99 989.02,957.33 991.66,955.19 994.31,957.70 996.95,955.80 999.59,955.92 1002.24,958.93 1004.88,957.54 1007.52,958.38 1010.16,959.40 1012.81,958.55 1015.45,958.66 1018.09,957.70 1020.73,957.59 1023.38,960.64 1026.02,960.01 1028.66,959.01 1031.31,958.36 1033.95,963.23 1036.59,958.58 1039.23,960.65 1041.88,958.66 1044.52,961.41 1047.16,962.17 1049.81,961.26 1052.45,960.03 1055.09,961.75 1057.73,965.10 1060.38,961.40 1063.02,964.60 1065.66,963.97 1068.31,964.39 1070.95,965.43 1073.59,964.82 1076.23,964.61 1078.88,964.23 1081.52,963.60 1084.16,964.06 1086.80,965.63 1089.45,964.02 1092.09,962.59 1094.73,962.68 1097.38,963.78 1100.02,963.21 1102.66,962.94 1105.30,962.46 1107.95,962.24 1110.59,965.13 1113.23,965.39 1115.88,963.49 1118.52,965.81" fill="none" stroke="#1f77b4" stroke-width="4.8" stroke-linejoin="round" stroke-linecap="square"/>
<g fill="#1f77b4"><circle cx="856.88" cy="603.99" r="6"/><circle cx="859.52" cy="816.83" r="6"/><circle cx="862.17" cy="848.75" r="6"/><circle cx="864.81" cy="867.30" r="6"/><circle cx="867.45" cy="881.56" r="6"/><circle cx="870.10" cy="889.47" r="6"/><circle cx="872.74" cy="901.07" r="6"/><circle cx="875.38" cy="899.74" r="6"/><circle cx="878.02" cy="890.87" r="6"/><circle cx="880.67" cy="904.91" r="6"/><circle cx="883.31" cy="907.87" r="6"/><circle cx="885.95" cy="913.04" r="6"/><circle cx="888.60" cy="919.47" r="6"/><circle cx="891.24" cy="923.47" r="6"/><circle cx="893.88" cy="923.61" r="6"/><circle cx="896.52" cy="915.41" r="6"/><circle cx="899.17" cy="926.20" r="6"/><circle cx="901.81" cy="932.60" r="6"/><circle cx="904.45" cy="930.28" r="6"/><circle cx="907.09" cy="932.70" r="6"/><circle cx="909.74" cy="937.01" r="6"/><circle cx="912.38" cy="939.11" r="6"/><circle cx="915.02" cy="933.07" r="6"/><circle cx="917.67" cy="940.28" r="6"/><circle cx="920.31" cy="940.63" r="6"/><circle cx="922.95" cy="940.66" r="6"/><circle cx="925.59" cy="943.13" r="6"/><circle cx="928.24" cy="943.24" r="6"/><circle cx="930.88" cy="943.55" r="6"/><circle cx="933.52" cy="943.67" r="6"/><circle cx="936.17" cy="943.17" r="6"/><circle cx="938.81" cy="946.08" r="6"/><circle cx="941.45" cy="946.39" r="6"/><circle cx="944.09" cy="947.63" r="6"/><circle cx="946.74" cy="944.85" r="6"/><circle cx="949.38" cy="947.65" r="6"/><circle cx="952.02" cy="948.43" r="6"/><circle cx="954.67" cy="950.87" r="6"/><circle cx="957.31" cy="948.88" r="6"/><circle cx="959.95" cy="951.30" r="6"/><circle cx="962.59" cy="951.26" r="6"/><circle cx="965.24" cy="952.73" r="6"/><circle cx="967.88" cy="951.94" r="6"/><circle cx="970.52" cy="946.59" r="6"/><circle cx="973.16" cy="953.73" r="6"/><circle cx="975.81" cy="953.29" r="6"/><circle cx="978.45" cy="952.73" r="6"/><circle cx="981.09" cy="954.98" r="6"/><circle cx="983.74" cy="955.77" r="6"/><circle cx="986.38" cy="955.99" r="6"/><circle cx="989.02" cy="957.33" r="6"/><circle cx="991.66" cy="955.19" r="6"/><circle cx="994.31" cy="957.70" r="6"/><circle cx="996.95" cy="955.80" r="6"/><circle cx="999.59" cy="955.92" r="6"/><circle cx="1002.24" cy="958.93" r="6"/><circle cx="1004.88" cy="957.54" r="6"/><circle cx="1007.52" cy="958.38" r="6"/><circle cx="1010.16" cy="959.40" r="6"/><circle cx="1012.81" cy="958.55" r="6"/><circle cx="1015.45" cy="958.66" r="6"/><circle cx="1018.09" cy="957.70" r="6"/><circle cx="1020.73" cy="957.59" r="6"/><circle cx="1023.38" cy="960.64" r="6"/><circle cx="1026.02" cy="960.01" r="6"/><circle cx="1028.66" cy="959.01" r="6"/><circle cx="1031.31" cy="958.36" r="6"/><circle cx="1033.95" cy="963.23" r="6"/><circle cx="1036.59" cy="958.58" r="6"/><circle cx="1039.23" cy="960.65" r="6"/><circle cx="1041.88" cy="958.66" r="6"/><circle cx="1044.52" cy="961.41" r="6"/><circle cx="1047.16" cy="962.17" r="6"/><circle cx="1049.81" cy="961.26" r="6"/><circle cx="1052.45" cy="960.03" r="6"/><circle cx="1055.09" cy="961.75" r="6"/><circle cx="1057.73" cy="965.10" r="6"/><circle cx="1060.38" cy="961.40" r="6"/><circle cx="1063.02" cy="964.60" r="6"/><circle cx="1065.66" cy="963.97" r="6"/><circle cx="1068.31" cy="964.39" r="6"/><circle cx="1070.95" cy="965.43" r="6"/><circle cx="1073.59" cy="964.82" r="6"/><circle cx="1076.23" cy="964.61" r="6"/><circle cx="1078.88" cy="964.23" r="6"/><circle cx="1081.52" cy="963.60" r="6"/><circle cx="1084.16" cy="964.06" r="6"/><circle cx="1086.80" cy="965.63" r="6"/><circle cx="1089.45" cy="964.02" r="6"/><circle cx="1092.09" cy="962.59" r="6"/><circle cx="1094.73" cy="962.68" r="6"/><circle cx="1097.38" cy="963.78" r="6"/><circle cx="1100.02" cy="963.21" r="6"/><circle cx="1102.66" cy="962.94" r="6"/><circle cx="1105.30" cy="962.46" r="6"/><circle cx="1107.95" cy="962.24" r="6"/><circle cx="1110.59" cy="965.13" r="6"/><circle cx="1113.23" cy="965.39" r="6"/><circle cx="1115.88" cy="963.49" r="6"/><circle cx="1118.52" cy="965.81" r="6"/></g>
<polyline points="856.88,787.90 859.52,797.16 862.17,813.35 864.81,832.82 867.45,851.98 870.10,868.44 872.74,881.27 875.38,890.76 878.02,897.74 880.67,903.13 883.31,907.60 885.95,911.50 888.60,914.99 891.24,918.12 893.88,920.94 896.52,923.52 899.17,925.95 901.81,928.25 904.45,930.42 907.09,932.43 909.74,934.24 912.38,935.84 915.02,937.27 917.67,938.55 920.31,939.71 922.95,940.75 925.59,941.68 928.24,942.51 930.88,943.25 933.52,943.93 936.17,944.58 938.81,945.22 941.45,945.85 944.09,946.50 946.74,947.15 949.38,947.82 952.02,948.49 954.67,949.14 957.31,949.73 959.95,950.25 962.59,950.70 965.24,951.09 967.88,951.48 970.52,951.91 973.16,952.42 975.81,953.01 978.45,953.65 981.09,954.30 983.74,954.91 986.38,955.43 989.02,955.88 991.66,956.25 994.31,956.57 996.95,956.88 999.59,957.19 1002.24,957.50 1004.88,957.79 1007.52,958.05 1010.16,958.27 1012.81,958.45 1015.45,958.61 1018.09,958.78 1020.73,958.96 1023.38,959.17 1026.02,959.38 1028.66,959.60 1031.31,959.80 1033.95,959.98 1036.59,960.17 1039.23,960.36 1041.88,960.58 1044.52,960.84 1047.16,961.14 1049.81,961.48 1052.45,961.86 1055.09,962.28 1057.73,962.71 1060.38,963.13 1063.02,963.52 1065.66,963.85 1068.31,964.11 1070.95,964.28 1073.59,964.36 1076.23,964.37 1078.88,964.33 1081.52,964.24 1084.16,964.11 1086.80,963.96 1089.45,963.79 1092.09,963.63 1094.73,963.48 1097.38,963.38 1100.02,963.35 1102.66,963.40 1105.30,963.53 1107.95,963.73 1110.59,963.97 1113.23,964.20 1115.88,964.39 1118.52,964.49" fill="none" stroke="#ff7f0e" stroke-width="4.8" stroke-dasharray="4.80 7.92" stroke-linecap="butt" stroke-linejoin="round"/>
<rect x="843.80" y="585.90" width="287.80" height="398.00" fill="none" stroke="#000" stroke-width="1.92" stroke-linejoin="miter"/>
<path d="M854.24 983.90V992.30 M986.38 983.90V992.30 M1118.52 983.90V992.30 M843.80 936.69H835.40 M843.80 862.79H835.40 M843.80 788.89H835.40 M843.80 714.99H835.40 M843.80 641.09H835.40" stroke="#000" stroke-width="1.92" fill="none"/>
<polyline points="1245.28,603.99 1247.92,792.26 1250.57,816.81 1253.21,839.90 1255.85,849.18 1258.50,864.04 1261.14,867.76 1263.78,877.84 1266.42,885.41 1269.07,895.49 1271.71,889.39 1274.35,898.67 1277.00,902.80 1279.64,907.96 1282.28,901.06 1284.92,912.87 1287.57,912.08 1290.21,914.36 1292.85,918.25 1295.49,919.86 1298.14,921.86 1300.78,926.61 1303.42,926.87 1306.07,928.76 1308.71,930.59 1311.35,929.95 1313.99,932.28 1316.64,932.50 1319.28,932.41 1321.92,933.21 1324.57,934.36 1327.21,933.03 1329.85,937.65 1332.49,937.81 1335.14,939.96 1337.78,938.22 1340.42,937.77 1343.07,938.13 1345.71,941.07 1348.35,941.24 1350.99,939.93 1353.64,942.41 1356.28,941.74 1358.92,944.90 1361.56,942.45 1364.21,943.52 1366.85,944.87 1369.49,947.14 1372.14,947.00 1374.78,947.33 1377.42,947.92 1380.06,949.11 1382.71,949.90 1385.35,949.96 1387.99,948.97 1390.64,953.92 1393.28,953.58 1395.92,954.22 1398.56,953.46 1401.21,955.15 1403.85,952.48 1406.49,953.41 1409.13,954.24 1411.78,955.20 1414.42,954.52 1417.06,954.90 1419.71,955.07 1422.35,956.79 1424.99,955.34 1427.63,958.41 1430.28,955.15 1432.92,961.00 1435.56,957.94 1438.21,958.86 1440.85,956.42 1443.49,959.56 1446.13,955.53 1448.78,960.34 1451.42,956.22 1454.06,958.79 1456.71,959.76 1459.35,959.55 1461.99,957.54 1464.63,959.47 1467.28,963.79 1469.92,961.17 1472.56,961.20 1475.20,963.99 1477.85,961.28 1480.49,964.16 1483.13,962.58 1485.78,962.65 1488.42,963.90 1491.06,962.32 1493.70,964.63 1496.35,963.28 1498.99,964.62 1501.63,964.69 1504.28,962.59 1506.92,965.81" fill="none" stroke="#1f77b4" stroke-width="4.8" stroke-linejoin="round" stroke-linecap="square"/>
<g fill="#1f77b4"><circle cx="1245.28" cy="603.99" r="6"/><circle cx="1247.92" cy="792.26" r="6"/><circle cx="1250.57" cy="816.81" r="6"/><circle cx="1253.21" cy="839.90" r="6"/><circle cx="1255.85" cy="849.18" r="6"/><circle cx="1258.50" cy="864.04" r="6"/><circle cx="1261.14" cy="867.76" r="6"/><circle cx="1263.78" cy="877.84" r="6"/><circle cx="1266.42" cy="885.41" r="6"/><circle cx="1269.07" cy="895.49" r="6"/><circle cx="1271.71" cy="889.39" r="6"/><circle cx="1274.35" cy="898.67" r="6"/><circle cx="1277.00" cy="902.80" r="6"/><circle cx="1279.64" cy="907.96" r="6"/><circle cx="1282.28" cy="901.06" r="6"/><circle cx="1284.92" cy="912.87" r="6"/><circle cx="1287.57" cy="912.08" r="6"/><circle cx="1290.21" cy="914.36" r="6"/><circle cx="1292.85" cy="918.25" r="6"/><circle cx="1295.49" cy="919.86" r="6"/><circle cx="1298.14" cy="921.86" r="6"/><circle cx="1300.78" cy="926.61" r="6"/><circle cx="1303.42" cy="926.87" r="6"/><circle cx="1306.07" cy="928.76" r="6"/><circle cx="1308.71" cy="930.59" r="6"/><circle cx="1311.35" cy="929.95" r="6"/><circle cx="1313.99" cy="932.28" r="6"/><circle cx="1316.64" cy="932.50" r="6"/><circle cx="1319.28" cy="932.41" r="6"/><circle cx="1321.92" cy="933.21" r="6"/><circle cx="1324.57" cy="934.36" r="6"/><circle cx="1327.21" cy="933.03" r="6"/><circle cx="1329.85" cy="937.65" r="6"/><circle cx="1332.49" cy="937.81" r="6"/><circle cx="1335.14" cy="939.96" r="6"/><circle cx="1337.78" cy="938.22" r="6"/><circle cx="1340.42" cy="937.77" r="6"/><circle cx="1343.07" cy="938.13" r="6"/><circle cx="1345.71" cy="941.07" r="6"/><circle cx="1348.35" cy="941.24" r="6"/><circle cx="1350.99" cy="939.93" r="6"/><circle cx="1353.64" cy="942.41" r="6"/><circle cx="1356.28" cy="941.74" r="6"/><circle cx="1358.92" cy="944.90" r="6"/><circle cx="1361.56" cy="942.45" r="6"/><circle cx="1364.21" cy="943.52" r="6"/><circle cx="1366.85" cy="944.87" r="6"/><circle cx="1369.49" cy="947.14" r="6"/><circle cx="1372.14" cy="947.00" r="6"/><circle cx="1374.78" cy="947.33" r="6"/><circle cx="1377.42" cy="947.92" r="6"/><circle cx="1380.06" cy="949.11" r="6"/><circle cx="1382.71" cy="949.90" r="6"/><circle cx="1385.35" cy="949.96" r="6"/><circle cx="1387.99" cy="948.97" r="6"/><circle cx="1390.64" cy="953.92" r="6"/><circle cx="1393.28" cy="953.58" r="6"/><circle cx="1395.92" cy="954.22" r="6"/><circle cx="1398.56" cy="953.46" r="6"/><circle cx="1401.21" cy="955.15" r="6"/><circle cx="1403.85" cy="952.48" r="6"/><circle cx="1406.49" cy="953.41" r="6"/><circle cx="1409.13" cy="954.24" r="6"/><circle cx="1411.78" cy="955.20" r="6"/><circle cx="1414.42" cy="954.52" r="6"/><circle cx="1417.06" cy="954.90" r="6"/><circle cx="1419.71" cy="955.07" r="6"/><circle cx="1422.35" cy="956.79" r="6"/><circle cx="1424.99" cy="955.34" r="6"/><circle cx="1427.63" cy="958.41" r="6"/><circle cx="1430.28" cy="955.15" r="6"/><circle cx="1432.92" cy="961.00" r="6"/><circle cx="1435.56" cy="957.94" r="6"/><circle cx="1438.21" cy="958.86" r="6"/><circle cx="1440.85" cy="956.42" r="6"/><circle cx="1443.49" cy="959.56" r="6"/><circle cx="1446.13" cy="955.53" r="6"/><circle cx="1448.78" cy="960.34" r="6"/><circle cx="1451.42" cy="956.22" r="6"/><circle cx="1454.06" cy="958.79" r="6"/><circle cx="1456.71" cy="959.76" r="6"/><circle cx="1459.35" cy="959.55" r="6"/><circle cx="1461.99" cy="957.54" r="6"/><circle cx="1464.63" cy="959.47" r="6"/><circle cx="1467.28" cy="963.79" r="6"/><circle cx="1469.92" cy="961.17" r="6"/><circle cx="1472.56" cy="961.20" r="6"/><circle cx="1475.20" cy="963.99" r="6"/><circle cx="1477.85" cy="961.28" r="6"/><circle cx="1480.49" cy="964.16" r="6"/><circle cx="1483.13" cy="962.58" r="6"/><circle cx="1485.78" cy="962.65" r="6"/><circle cx="1488.42" cy="963.90" r="6"/><circle cx="1491.06" cy="962.32" r="6"/><circle cx="1493.70" cy="964.63" r="6"/><circle cx="1496.35" cy="963.28" r="6"/><circle cx="1498.99" cy="964.62" r="6"/><circle cx="1501.63" cy="964.69" r="6"/><circle cx="1504.28" cy="962.59" r="6"/><circle cx="1506.92" cy="965.81" r="6"/></g>
<polyline points="1245.28,767.13 1247.92,775.73 1250.57,790.90 1253.21,809.46 1255.85,828.27 1258.50,845.15 1261.14,859.14 1263.78,870.24 1266.42,878.92 1269.07,885.78 1271.71,891.32 1274.35,895.93 1277.00,899.86 1279.64,903.32 1282.28,906.44 1284.92,909.35 1287.57,912.09 1290.21,914.73 1292.85,917.26 1295.49,919.67 1298.14,921.94 1300.78,924.02 1303.42,925.88 1306.07,927.51 1308.71,928.90 1311.35,930.08 1313.99,931.09 1316.64,931.98 1319.28,932.81 1321.92,933.63 1324.57,934.46 1327.21,935.30 1329.85,936.14 1332.49,936.92 1335.14,937.64 1337.78,938.29 1340.42,938.88 1343.07,939.45 1345.71,940.02 1348.35,940.61 1350.99,941.21 1353.64,941.83 1356.28,942.47 1358.92,943.12 1361.56,943.80 1364.21,944.50 1366.85,945.23 1369.49,945.98 1372.14,946.72 1374.78,947.46 1377.42,948.18 1380.06,948.91 1382.71,949.65 1385.35,950.40 1387.99,951.14 1390.64,951.83 1393.28,952.45 1395.92,952.96 1398.56,953.35 1401.21,953.65 1403.85,953.89 1406.49,954.10 1409.13,954.34 1411.78,954.61 1414.42,954.92 1417.06,955.27 1419.71,955.66 1422.35,956.08 1424.99,956.51 1427.63,956.92 1430.28,957.29 1432.92,957.59 1435.56,957.81 1438.21,957.94 1440.85,958.01 1443.49,958.07 1446.13,958.15 1448.78,958.28 1451.42,958.47 1454.06,958.72 1456.71,959.05 1459.35,959.45 1461.99,959.90 1464.63,960.40 1467.28,960.90 1469.92,961.38 1472.56,961.81 1475.20,962.17 1477.85,962.47 1480.49,962.72 1483.13,962.93 1485.78,963.11 1488.42,963.29 1491.06,963.47 1493.70,963.65 1496.35,963.83 1498.99,963.99 1501.63,964.12 1504.28,964.22 1506.92,964.27" fill="none" stroke="#ff7f0e" stroke-width="4.8" stroke-dasharray="4.80 7.92" stroke-linecap="butt" stroke-linejoin="round"/>
<rect x="1232.20" y="585.90" width="287.80" height="398.00" fill="none" stroke="#000" stroke-width="1.92" stroke-linejoin="miter"/>
<path d="M1242.64 983.90V992.30 M1374.78 983.90V992.30 M1506.92 983.90V992.30 M1232.20 978.28H1223.80 M1232.20 911.94H1223.80 M1232.20 845.60H1223.80 M1232.20 779.26H1223.80 M1232.20 712.92H1223.80 M1232.20 646.58H1223.80" stroke="#000" stroke-width="1.92" fill="none"/>
<polyline points="1633.68,965.81 1636.32,901.21 1638.97,868.53 1641.61,850.12 1644.25,835.47 1646.90,794.53 1649.54,769.37 1652.18,762.23 1654.82,781.76 1657.47,729.93 1660.11,720.54 1662.75,707.77 1665.40,720.54 1668.04,699.88 1670.68,674.34 1673.32,670.59 1675.97,682.60 1678.61,665.33 1681.25,659.20 1683.89,655.10 1686.54,650.79 1689.18,647.48 1691.82,648.26 1694.47,648.86 1697.11,643.15 1699.75,642.73 1702.39,639.68 1705.04,638.68 1707.68,635.87 1710.32,627.39 1712.97,632.74 1715.61,634.41 1718.25,629.77 1720.89,630.77 1723.54,629.20 1726.18,623.69 1728.82,625.85 1731.47,628.34 1734.11,621.59 1736.75,622.24 1739.39,621.51 1742.04,623.26 1744.68,622.41 1747.32,623.10 1749.96,623.46 1752.61,617.59 1755.25,621.21 1757.89,620.79 1760.54,620.05 1763.18,614.12 1765.82,615.76 1768.46,617.98 1771.11,616.57 1773.75,614.56 1776.39,612.98 1779.04,618.03 1781.68,611.69 1784.32,619.50 1786.96,614.47 1789.61,613.41 1792.25,610.34 1794.89,607.78 1797.53,611.14 1800.18,609.87 1802.82,612.73 1805.46,609.47 1808.11,608.50 1810.75,613.66 1813.39,611.28 1816.03,608.14 1818.68,613.82 1821.32,610.39 1823.96,607.83 1826.61,612.74 1829.25,609.42 1831.89,608.08 1834.53,605.87 1837.18,610.55 1839.82,604.79 1842.46,606.46 1845.11,604.36 1847.75,604.43 1850.39,606.32 1853.03,605.99 1855.68,611.11 1858.32,610.21 1860.96,609.33 1863.60,607.66 1866.25,604.51 1868.89,610.56 1871.53,606.99 1874.18,609.08 1876.82,609.37 1879.46,603.99 1882.10,605.05 1884.75,603.99 1887.39,603.99 1890.03,606.64 1892.68,608.52 1895.32,603.99" fill="none" stroke="#1f77b4" stroke-width="4.8" stroke-linejoin="round" stroke-linecap="square"/>
<g fill="#1f77b4"><circle cx="1633.68" cy="965.81" r="6"/><circle cx="1636.32" cy="901.21" r="6"/><circle cx="1638.97" cy="868.53" r="6"/><circle cx="1641.61" cy="850.12" r="6"/><circle cx="1644.25" cy="835.47" r="6"/><circle cx="1646.90" cy="794.53" r="6"/><circle cx="1649.54" cy="769.37" r="6"/><circle cx="1652.18" cy="762.23" r="6"/><circle cx="1654.82" cy="781.76" r="6"/><circle cx="1657.47" cy="729.93" r="6"/><circle cx="1660.11" cy="720.54" r="6"/><circle cx="1662.75" cy="707.77" r="6"/><circle cx="1665.40" cy="720.54" r="6"/><circle cx="1668.04" cy="699.88" r="6"/><circle cx="1670.68" cy="674.34" r="6"/><circle cx="1673.32" cy="670.59" r="6"/><circle cx="1675.97" cy="682.60" r="6"/><circle cx="1678.61" cy="665.33" r="6"/><circle cx="1681.25" cy="659.20" r="6"/><circle cx="1683.89" cy="655.10" r="6"/><circle cx="1686.54" cy="650.79" r="6"/><circle cx="1689.18" cy="647.48" r="6"/><circle cx="1691.82" cy="648.26" r="6"/><circle cx="1694.47" cy="648.86" r="6"/><circle cx="1697.11" cy="643.15" r="6"/><circle cx="1699.75" cy="642.73" r="6"/><circle cx="1702.39" cy="639.68" r="6"/><circle cx="1705.04" cy="638.68" r="6"/><circle cx="1707.68" cy="635.87" r="6"/><circle cx="1710.32" cy="627.39" r="6"/><circle cx="1712.97" cy="632.74" r="6"/><circle cx="1715.61" cy="634.41" r="6"/><circle cx="1718.25" cy="629.77" r="6"/><circle cx="1720.89" cy="630.77" r="6"/><circle cx="1723.54" cy="629.20" r="6"/><circle cx="1726.18" cy="623.69" r="6"/><circle cx="1728.82" cy="625.85" r="6"/><circle cx="1731.47" cy="628.34" r="6"/><circle cx="1734.11" cy="621.59" r="6"/><circle cx="1736.75" cy="622.24" r="6"/><circle cx="1739.39" cy="621.51" r="6"/><circle cx="1742.04" cy="623.26" r="6"/><circle cx="1744.68" cy="622.41" r="6"/><circle cx="1747.32" cy="623.10" r="6"/><circle cx="1749.96" cy="623.46" r="6"/><circle cx="1752.61" cy="617.59" r="6"/><circle cx="1755.25" cy="621.21" r="6"/><circle cx="1757.89" cy="620.79" r="6"/><circle cx="1760.54" cy="620.05" r="6"/><circle cx="1763.18" cy="614.12" r="6"/><circle cx="1765.82" cy="615.76" r="6"/><circle cx="1768.46" cy="617.98" r="6"/><circle cx="1771.11" cy="616.57" r="6"/><circle cx="1773.75" cy="614.56" r="6"/><circle cx="1776.39" cy="612.98" r="6"/><circle cx="1779.04" cy="618.03" r="6"/><circle cx="1781.68" cy="611.69" r="6"/><circle cx="1784.32" cy="619.50" r="6"/><circle cx="1786.96" cy="614.47" r="6"/><circle cx="1789.61" cy="613.41" r="6"/><circle cx="1792.25" cy="610.34" r="6"/><circle cx="1794.89" cy="607.78" r="6"/><circle cx="1797.53" cy="611.14" r="6"/><circle cx="1800.18" cy="609.87" r="6"/><circle cx="1802.82" cy="612.73" r="6"/><circle cx="1805.46" cy="609.47" r="6"/><circle cx="1808.11" cy="608.50" r="6"/><circle cx="1810.75" cy="613.66" r="6"/><circle cx="1813.39" cy="611.28" r="6"/><circle cx="1816.03" cy="608.14" r="6"/><circle cx="1818.68" cy="613.82" r="6"/><circle cx="1821.32" cy="610.39" r="6"/><circle cx="1823.96" cy="607.83" r="6"/><circle cx="1826.61" cy="612.74" r="6"/><circle cx="1829.25" cy="609.42" r="6"/><circle cx="1831.89" cy="608.08" r="6"/><circle cx="1834.53" cy="605.87" r="6"/><circle cx="1837.18" cy="610.55" r="6"/><circle cx="1839.82" cy="604.79" r="6"/><circle cx="1842.46" cy="606.46" r="6"/><circle cx="1845.11" cy="604.36" r="6"/><circle cx="1847.75" cy="604.43" r="6"/><circle cx="1850.39" cy="606.32" r="6"/><circle cx="1853.03" cy="605.99" r="6"/><circle cx="1855.68" cy="611.11" r="6"/><circle cx="1858.32" cy="610.21" r="6"/><circle cx="1860.96" cy="609.33" r="6"/><circle cx="1863.60" cy="607.66" r="6"/><circle cx="1866.25" cy="604.51" r="6"/><circle cx="1868.89" cy="610.56" r="6"/><circle cx="1871.53" cy="606.99" r="6"/><circle cx="1874.18" cy="609.08" r="6"/><circle cx="1876.82" cy="609.37" r="6"/><circle cx="1879.46" cy="603.99" r="6"/><circle cx="1882.10" cy="605.05" r="6"/><circle cx="1884.75" cy="603.99" r="6"/><circle cx="1887.39" cy="603.99" r="6"/><circle cx="1890.03" cy="606.64" r="6"/><circle cx="1892.68" cy="608.52" r="6"/><circle cx="1895.32" cy="603.99" r="6"/></g>
<polyline points="1633.68,887.26 1636.32,880.16 1638.97,867.07 1641.61,849.87 1644.25,830.61 1646.90,811.03 1649.54,792.30 1652.18,775.01 1654.82,759.26 1657.47,744.96 1660.11,731.93 1662.75,720.02 1665.40,709.14 1668.04,699.24 1670.68,690.30 1673.32,682.30 1675.97,675.23 1678.61,669.04 1681.25,663.66 1683.89,659.04 1686.54,655.12 1689.18,651.81 1691.82,648.99 1694.47,646.51 1697.11,644.23 1699.75,642.06 1702.39,639.97 1705.04,637.98 1707.68,636.13 1710.32,634.48 1712.97,633.03 1715.61,631.73 1718.25,630.55 1720.89,629.41 1723.54,628.29 1726.18,627.20 1728.82,626.17 1731.47,625.23 1734.11,624.40 1736.75,623.71 1739.39,623.14 1742.04,622.66 1744.68,622.21 1747.32,621.76 1749.96,621.24 1752.61,620.64 1755.25,619.97 1757.89,619.25 1760.54,618.51 1763.18,617.80 1765.82,617.16 1768.46,616.60 1771.11,616.13 1773.75,615.75 1776.39,615.41 1779.04,615.07 1781.68,614.66 1784.32,614.16 1786.96,613.54 1789.61,612.86 1792.25,612.18 1794.89,611.60 1797.53,611.16 1800.18,610.88 1802.82,610.75 1805.46,610.71 1808.11,610.72 1810.75,610.73 1813.39,610.71 1816.03,610.64 1818.68,610.50 1821.32,610.27 1823.96,609.95 1826.61,609.54 1829.25,609.06 1831.89,608.52 1834.53,607.96 1837.18,607.44 1839.82,607.00 1842.46,606.71 1845.11,606.61 1847.75,606.71 1850.39,606.97 1853.03,607.33 1855.68,607.68 1858.32,607.94 1860.96,608.07 1863.60,608.07 1866.25,607.97 1868.89,607.79 1871.53,607.53 1874.18,607.20 1876.82,606.82 1879.46,606.43 1882.10,606.08 1884.75,605.84 1887.39,605.71 1890.03,605.67 1892.68,605.68 1895.32,605.70" fill="none" stroke="#ff7f0e" stroke-width="4.8" stroke-dasharray="4.80 7.92" stroke-linecap="butt" stroke-linejoin="round"/>
<rect x="1620.60" y="585.90" width="287.80" height="398.00" fill="none" stroke="#000" stroke-width="1.92" stroke-linejoin="miter"/>
<path d="M1631.04 983.90V992.30 M1763.18 983.90V992.30 M1895.32 983.90V992.30 M1620.60 965.81H1612.20 M1620.60 890.69H1612.20 M1620.60 815.57H1612.20 M1620.60 740.45H1612.20 M1620.60 665.33H1612.20 M1620.60 590.21H1612.20" stroke="#000" stroke-width="1.92" fill="none"/>
<polyline points="2022.08,965.81 2024.72,940.56 2027.37,924.44 2030.01,912.08 2032.65,901.87 2035.30,874.47 2037.94,857.27 2040.58,850.29 2043.22,868.56 2045.87,813.22 2048.51,806.23 2051.15,811.60 2053.80,778.29 2056.44,751.96 2059.08,776.14 2061.72,752.50 2064.37,739.07 2067.01,725.10 2069.65,720.26 2072.29,729.40 2074.94,727.77 2077.58,722.88 2080.22,716.49 2082.87,716.34 2085.51,707.90 2088.15,708.29 2090.79,697.60 2093.44,698.62 2096.08,698.08 2098.72,693.08 2101.37,685.79 2104.01,683.10 2106.65,681.56 2109.29,684.37 2111.94,681.00 2114.58,674.99 2117.22,678.56 2119.87,675.85 2122.51,675.54 2125.15,678.89 2127.79,667.52 2130.44,667.32 2133.08,667.07 2135.72,663.74 2138.36,660.51 2141.01,647.19 2143.65,658.37 2146.29,656.91 2148.94,656.26 2151.58,649.27 2154.22,650.95 2156.86,651.27 2159.51,646.61 2162.15,644.20 2164.79,640.71 2167.44,638.75 2170.08,641.27 2172.72,640.08 2175.36,637.82 2178.01,638.81 2180.65,635.31 2183.29,633.11 2185.93,640.74 2188.58,636.20 2191.22,634.48 2193.86,628.06 2196.51,632.60 2199.15,629.46 2201.79,627.15 2204.43,628.45 2207.08,629.05 2209.72,625.24 2212.36,626.56 2215.01,623.41 2217.65,621.14 2220.29,628.92 2222.93,619.40 2225.58,618.74 2228.22,620.14 2230.86,617.10 2233.51,617.55 2236.15,619.77 2238.79,615.92 2241.43,615.40 2244.08,615.73 2246.72,613.88 2249.36,611.57 2252.00,611.23 2254.65,610.71 2257.29,610.80 2259.93,613.68 2262.58,609.55 2265.22,610.90 2267.86,603.99 2270.50,606.89 2273.15,604.65 2275.79,609.10 2278.43,607.65 2281.08,605.66 2283.72,603.99" fill="none" stroke="#1f77b4" stroke-width="4.8" stroke-linejoin="round" stroke-linecap="square"/>
<g fill="#1f77b4"><circle cx="2022.08" cy="965.81" r="6"/><circle cx="2024.72" cy="940.56" r="6"/><circle cx="2027.37" cy="924.44" r="6"/><circle cx="2030.01" cy="912.08" r="6"/><circle cx="2032.65" cy="901.87" r="6"/><circle cx="2035.30" cy="874.47" r="6"/><circle cx="2037.94" cy="857.27" r="6"/><circle cx="2040.58" cy="850.29" r="6"/><circle cx="2043.22" cy="868.56" r="6"/><circle cx="2045.87" cy="813.22" r="6"/><circle cx="2048.51" cy="806.23" r="6"/><circle cx="2051.15" cy="811.60" r="6"/><circle cx="2053.80" cy="778.29" r="6"/><circle cx="2056.44" cy="751.96" r="6"/><circle cx="2059.08" cy="776.14" r="6"/><circle cx="2061.72" cy="752.50" r="6"/><circle cx="2064.37" cy="739.07" r="6"/><circle cx="2067.01" cy="725.10" r="6"/><circle cx="2069.65" cy="720.26" r="6"/><circle cx="2072.29" cy="729.40" r="6"/><circle cx="2074.94" cy="727.77" r="6"/><circle cx="2077.58" cy="722.88" r="6"/><circle cx="2080.22" cy="716.49" r="6"/><circle cx="2082.87" cy="716.34" r="6"/><circle cx="2085.51" cy="707.90" r="6"/><circle cx="2088.15" cy="708.29" r="6"/><circle cx="2090.79" cy="697.60" r="6"/><circle cx="2093.44" cy="698.62" r="6"/><circle cx="2096.08" cy="698.08" r="6"/><circle cx="2098.72" cy="693.08" r="6"/><circle cx="2101.37" cy="685.79" r="6"/><circle cx="2104.01" cy="683.10" r="6"/><circle cx="2106.65" cy="681.56" r="6"/><circle cx="2109.29" cy="684.37" r="6"/><circle cx="2111.94" cy="681.00" r="6"/><circle cx="2114.58" cy="674.99" r="6"/><circle cx="2117.22" cy="678.56" r="6"/><circle cx="2119.87" cy="675.85" r="6"/><circle cx="2122.51" cy="675.54" r="6"/><circle cx="2125.15" cy="678.89" r="6"/><circle cx="2127.79" cy="667.52" r="6"/><circle cx="2130.44" cy="667.32" r="6"/><circle cx="2133.08" cy="667.07" r="6"/><circle cx="2135.72" cy="663.74" r="6"/><circle cx="2138.36" cy="660.51" r="6"/><circle cx="2141.01" cy="647.19" r="6"/><circle cx="2143.65" cy="658.37" r="6"/><circle cx="2146.29" cy="656.91" r="6"/><circle cx="2148.94" cy="656.26" r="6"/><circle cx="2151.58" cy="649.27" r="6"/><circle cx="2154.22" cy="650.95" r="6"/><circle cx="2156.86" cy="651.27" r="6"/><circle cx="2159.51" cy="646.61" r="6"/><circle cx="2162.15" cy="644.20" r="6"/><circle cx="2164.79" cy="640.71" r="6"/><circle cx="2167.44" cy="638.75" r="6"/><circle cx="2170.08" cy="641.27" r="6"/><circle cx="2172.72" cy="640.08" r="6"/><circle cx="2175.36" cy="637.82" r="6"/><circle cx="2178.01" cy="638.81" r="6"/><circle cx="2180.65" cy="635.31" r="6"/><circle cx="2183.29" cy="633.11" r="6"/><circle cx="2185.93" cy="640.74" r="6"/><circle cx="2188.58" cy="636.20" r="6"/><circle cx="2191.22" cy="634.48" r="6"/><circle cx="2193.86" cy="628.06" r="6"/><circle cx="2196.51" cy="632.60" r="6"/><circle cx="2199.15" cy="629.46" r="6"/><circle cx="2201.79" cy="627.15" r="6"/><circle cx="2204.43" cy="628.45" r="6"/><circle cx="2207.08" cy="629.05" r="6"/><circle cx="2209.72" cy="625.24" r="6"/><circle cx="2212.36" cy="626.56" r="6"/><circle cx="2215.01" cy="623.41" r="6"/><circle cx="2217.65" cy="621.14" r="6"/><circle cx="2220.29" cy="628.92" r="6"/><circle cx="2222.93" cy="619.40" r="6"/><circle cx="2225.58" cy="618.74" r="6"/><circle cx="2228.22" cy="620.14" r="6"/><circle cx="2230.86" cy="617.10" r="6"/><circle cx="2233.51" cy="617.55" r="6"/><circle cx="2236.15" cy="619.77" r="6"/><circle cx="2238.79" cy="615.92" r="6"/><circle cx="2241.43" cy="615.40" r="6"/><circle cx="2244.08" cy="615.73" r="6"/><circle cx="2246.72" cy="613.88" r="6"/><circle cx="2249.36" cy="611.57" r="6"/><circle cx="2252.00" cy="611.23" r="6"/><circle cx="2254.65" cy="610.71" r="6"/><circle cx="2257.29" cy="610.80" r="6"/><circle cx="2259.93" cy="613.68" r="6"/><circle cx="2262.58" cy="609.55" r="6"/><circle cx="2265.22" cy="610.90" r="6"/><circle cx="2267.86" cy="603.99" r="6"/><circle cx="2270.50" cy="606.89" r="6"/><circle cx="2273.15" cy="604.65" r="6"/><circle cx="2275.79" cy="609.10" r="6"/><circle cx="2278.43" cy="607.65" r="6"/><circle cx="2281.08" cy="605.66" r="6"/><circle cx="2283.72" cy="603.99" r="6"/></g>
<polyline points="2022.08,929.33 2024.72,925.22 2027.37,917.51 2030.01,907.04 2032.65,894.79 2035.30,881.57 2037.94,867.96 2040.58,854.25 2043.22,840.51 2045.87,826.81 2048.51,813.24 2051.15,799.99 2053.80,787.32 2056.44,775.44 2059.08,764.58 2061.72,754.86 2064.37,746.41 2067.01,739.25 2069.65,733.35 2072.29,728.50 2074.94,724.39 2077.58,720.69 2080.22,717.13 2082.87,713.54 2085.51,709.89 2088.15,706.21 2090.79,702.58 2093.44,699.04 2096.08,695.65 2098.72,692.46 2101.37,689.51 2104.01,686.85 2106.65,684.50 2109.29,682.45 2111.94,680.64 2114.58,679.01 2117.22,677.45 2119.87,675.86 2122.51,674.13 2125.15,672.19 2127.79,670.03 2130.44,667.69 2133.08,665.24 2135.72,662.81 2138.36,660.52 2141.01,658.45 2143.65,656.62 2146.29,654.96 2148.94,653.40 2151.58,651.82 2154.22,650.17 2156.86,648.45 2159.51,646.68 2162.15,644.96 2164.79,643.35 2167.44,641.92 2170.08,640.67 2172.72,639.60 2175.36,638.67 2178.01,637.83 2180.65,637.04 2183.29,636.23 2185.93,635.36 2188.58,634.39 2191.22,633.34 2193.86,632.23 2196.51,631.12 2199.15,630.06 2201.79,629.06 2204.43,628.12 2207.08,627.22 2209.72,626.33 2212.36,625.43 2215.01,624.51 2217.65,623.56 2220.29,622.58 2222.93,621.59 2225.58,620.63 2228.22,619.71 2230.86,618.84 2233.51,618.02 2236.15,617.22 2238.79,616.41 2241.43,615.57 2244.08,614.71 2246.72,613.87 2249.36,613.07 2252.00,612.34 2254.65,611.65 2257.29,610.99 2259.93,610.31 2262.58,609.61 2265.22,608.89 2267.86,608.21 2270.50,607.60 2273.15,607.11 2275.79,606.71 2278.43,606.42 2281.08,606.21 2283.72,606.10" fill="none" stroke="#ff7f0e" stroke-width="4.8" stroke-dasharray="4.80 7.92" stroke-linecap="butt" stroke-linejoin="round"/>
<rect x="2009.00" y="585.90" width="287.80" height="398.00" fill="none" stroke="#000" stroke-width="1.92" stroke-linejoin="miter"/>
<path d="M2019.44 983.90V992.30 M2151.58 983.90V992.30 M2283.72 983.90V992.30 M2009.00 965.81H2000.60 M2009.00 858.35H2000.60 M2009.00 750.89H2000.60 M2009.00 643.43H2000.60" stroke="#000" stroke-width="1.92" fill="none"/>
<polyline points="2410.48,965.81 2413.12,903.23 2415.77,849.31 2418.41,833.85 2421.05,827.82 2423.70,780.70 2426.34,769.39 2428.98,746.01 2431.62,779.94 2434.27,727.54 2436.91,707.56 2439.55,730.93 2442.20,700.02 2444.84,676.64 2447.48,683.80 2450.12,669.85 2452.77,658.17 2455.41,649.12 2458.05,652.89 2460.69,652.42 2463.34,650.11 2465.98,654.02 2468.62,647.75 2471.27,641.59 2473.91,645.74 2476.55,639.73 2479.19,645.08 2481.84,640.88 2484.48,636.30 2487.12,636.07 2489.77,627.33 2492.41,626.95 2495.05,635.06 2497.69,632.77 2500.34,629.48 2502.98,624.17 2505.62,624.78 2508.27,626.01 2510.91,629.43 2513.55,627.53 2516.19,634.42 2518.84,627.66 2521.48,622.30 2524.12,620.59 2526.76,624.54 2529.41,620.46 2532.05,616.08 2534.69,612.17 2537.34,618.85 2539.98,616.09 2542.62,615.79 2545.26,616.41 2547.91,617.46 2550.55,616.84 2553.19,615.26 2555.84,616.32 2558.48,611.56 2561.12,612.15 2563.76,611.29 2566.41,608.72 2569.05,609.34 2571.69,609.30 2574.33,611.33 2576.98,617.45 2579.62,606.28 2582.26,612.89 2584.91,612.55 2587.55,612.90 2590.19,610.13 2592.83,609.28 2595.48,607.41 2598.12,609.84 2600.76,612.92 2603.41,607.95 2606.05,606.23 2608.69,608.20 2611.33,608.43 2613.98,606.74 2616.62,604.72 2619.26,608.17 2621.91,611.28 2624.55,609.31 2627.19,608.40 2629.83,612.09 2632.48,605.88 2635.12,609.00 2637.76,605.65 2640.40,606.52 2643.05,607.03 2645.69,603.99 2648.33,607.28 2650.98,607.41 2653.62,605.07 2656.26,603.99 2658.90,605.62 2661.55,607.82 2664.19,603.99 2666.83,603.99 2669.48,603.99 2672.12,603.99" fill="none" stroke="#1f77b4" stroke-width="4.8" stroke-linejoin="round" stroke-linecap="square"/>
<g fill="#1f77b4"><circle cx="2410.48" cy="965.81" r="6"/><circle cx="2413.12" cy="903.23" r="6"/><circle cx="2415.77" cy="849.31" r="6"/><circle cx="2418.41" cy="833.85" r="6"/><circle cx="2421.05" cy="827.82" r="6"/><circle cx="2423.70" cy="780.70" r="6"/><circle cx="2426.34" cy="769.39" r="6"/><circle cx="2428.98" cy="746.01" r="6"/><circle cx="2431.62" cy="779.94" r="6"/><circle cx="2434.27" cy="727.54" r="6"/><circle cx="2436.91" cy="707.56" r="6"/><circle cx="2439.55" cy="730.93" r="6"/><circle cx="2442.20" cy="700.02" r="6"/><circle cx="2444.84" cy="676.64" r="6"/><circle cx="2447.48" cy="683.80" r="6"/><circle cx="2450.12" cy="669.85" r="6"/><circle cx="2452.77" cy="658.17" r="6"/><circle cx="2455.41" cy="649.12" r="6"/><circle cx="2458.05" cy="652.89" r="6"/><circle cx="2460.69" cy="652.42" r="6"/><circle cx="2463.34" cy="650.11" r="6"/><circle cx="2465.98" cy="654.02" r="6"/><circle cx="2468.62" cy="647.75" r="6"/><circle cx="2471.27" cy="641.59" r="6"/><circle cx="2473.91" cy="645.74" r="6"/><circle cx="2476.55" cy="639.73" r="6"/><circle cx="2479.19" cy="645.08" r="6"/><circle cx="2481.84" cy="640.88" r="6"/><circle cx="2484.48" cy="636.30" r="6"/><circle cx="2487.12" cy="636.07" r="6"/><circle cx="2489.77" cy="627.33" r="6"/><circle cx="2492.41" cy="626.95" r="6"/><circle cx="2495.05" cy="635.06" r="6"/><circle cx="2497.69" cy="632.77" r="6"/><circle cx="2500.34" cy="629.48" r="6"/><circle cx="2502.98" cy="624.17" r="6"/><circle cx="2505.62" cy="624.78" r="6"/><circle cx="2508.27" cy="626.01" r="6"/><circle cx="2510.91" cy="629.43" r="6"/><circle cx="2513.55" cy="627.53" r="6"/><circle cx="2516.19" cy="634.42" r="6"/><circle cx="2518.84" cy="627.66" r="6"/><circle cx="2521.48" cy="622.30" r="6"/><circle cx="2524.12" cy="620.59" r="6"/><circle cx="2526.76" cy="624.54" r="6"/><circle cx="2529.41" cy="620.46" r="6"/><circle cx="2532.05" cy="616.08" r="6"/><circle cx="2534.69" cy="612.17" r="6"/><circle cx="2537.34" cy="618.85" r="6"/><circle cx="2539.98" cy="616.09" r="6"/><circle cx="2542.62" cy="615.79" r="6"/><circle cx="2545.26" cy="616.41" r="6"/><circle cx="2547.91" cy="617.46" r="6"/><circle cx="2550.55" cy="616.84" r="6"/><circle cx="2553.19" cy="615.26" r="6"/><circle cx="2555.84" cy="616.32" r="6"/><circle cx="2558.48" cy="611.56" r="6"/><circle cx="2561.12" cy="612.15" r="6"/><circle cx="2563.76" cy="611.29" r="6"/><circle cx="2566.41" cy="608.72" r="6"/><circle cx="2569.05" cy="609.34" r="6"/><circle cx="2571.69" cy="609.30" r="6"/><circle cx="2574.33" cy="611.33" r="6"/><circle cx="2576.98" cy="617.45" r="6"/><circle cx="2579.62" cy="606.28" r="6"/><circle cx="2582.26" cy="612.89" r="6"/><circle cx="2584.91" cy="612.55" r="6"/><circle cx="2587.55" cy="612.90" r="6"/><circle cx="2590.19" cy="610.13" r="6"/><circle cx="2592.83" cy="609.28" r="6"/><circle cx="2595.48" cy="607.41" r="6"/><circle cx="2598.12" cy="609.84" r="6"/><circle cx="2600.76" cy="612.92" r="6"/><circle cx="2603.41" cy="607.95" r="6"/><circle cx="2606.05" cy="606.23" r="6"/><circle cx="2608.69" cy="608.20" r="6"/><circle cx="2611.33" cy="608.43" r="6"/><circle cx="2613.98" cy="606.74" r="6"/><circle cx="2616.62" cy="604.72" r="6"/><circle cx="2619.26" cy="608.17" r="6"/><circle cx="2621.91" cy="611.28" r="6"/><circle cx="2624.55" cy="609.31" r="6"/><circle cx="2627.19" cy="608.40" r="6"/><circle cx="2629.83" cy="612.09" r="6"/><circle cx="2632.48" cy="605.88" r="6"/><circle cx="2635.12" cy="609.00" r="6"/><circle cx="2637.76" cy="605.65" r="6"/><circle cx="2640.40" cy="606.52" r="6"/><circle cx="2643.05" cy="607.03" r="6"/><circle cx="2645.69" cy="603.99" r="6"/><circle cx="2648.33" cy="607.28" r="6"/><circle cx="2650.98" cy="607.41" r="6"/><circle cx="2653.62" cy="605.07" r="6"/><circle cx="2656.26" cy="603.99" r="6"/><circle cx="2658.90" cy="605.62" r="6"/><circle cx="2661.55" cy="607.82" r="6"/><circle cx="2664.19" cy="603.99" r="6"/><circle cx="2666.83" cy="603.99" r="6"/><circle cx="2669.48" cy="603.99" r="6"/><circle cx="2672.12" cy="603.99" r="6"/></g>
<polyline points="2410.48,880.33 2413.12,872.86 2415.77,859.23 2418.41,841.54 2421.05,822.08 2423.70,802.69 2426.34,784.50 2428.98,767.93 2431.62,752.91 2434.27,739.15 2436.91,726.33 2439.55,714.27 2442.20,702.95 2444.84,692.44 2447.48,682.92 2450.12,674.58 2452.77,667.57 2455.41,661.92 2458.05,657.53 2460.69,654.20 2463.34,651.62 2465.98,649.51 2468.62,647.66 2471.27,645.92 2473.91,644.20 2476.55,642.47 2479.19,640.69 2481.84,638.85 2484.48,637.01 2487.12,635.24 2489.77,633.63 2492.41,632.22 2495.05,631.03 2497.69,630.03 2500.34,629.21 2502.98,628.57 2505.62,628.11 2508.27,627.79 2510.91,627.50 2513.55,627.11 2516.19,626.48 2518.84,625.56 2521.48,624.36 2524.12,622.97 2526.76,621.53 2529.41,620.15 2532.05,618.95 2534.69,617.99 2537.34,617.29 2539.98,616.81 2542.62,616.47 2545.26,616.18 2547.91,615.84 2550.55,615.38 2553.19,614.77 2555.84,614.05 2558.48,613.26 2561.12,612.50 2563.76,611.86 2566.41,611.41 2569.05,611.17 2571.69,611.11 2574.33,611.17 2576.98,611.27 2579.62,611.32 2582.26,611.28 2584.91,611.13 2587.55,610.88 2590.19,610.56 2592.83,610.20 2595.48,609.83 2598.12,609.46 2600.76,609.10 2603.41,608.74 2606.05,608.42 2608.69,608.16 2611.33,608.00 2613.98,607.97 2616.62,608.07 2619.26,608.24 2621.91,608.41 2624.55,608.52 2627.19,608.50 2629.83,608.33 2632.48,608.03 2635.12,607.65 2637.76,607.26 2640.40,606.89 2643.05,606.57 2645.69,606.32 2648.33,606.11 2650.98,605.92 2653.62,605.74 2656.26,605.56 2658.90,605.35 2661.55,605.14 2664.19,604.91 2666.83,604.70 2669.48,604.54 2672.12,604.45" fill="none" stroke="#ff7f0e" stroke-width="4.8" stroke-dasharray="4.80 7.92" stroke-linecap="butt" stroke-linejoin="round"/>
<rect x="2397.40" y="585.90" width="287.80" height="398.00" fill="none" stroke="#000" stroke-width="1.92" stroke-linejoin="miter"/>
<path d="M2407.84 983.90V992.30 M2539.98 983.90V992.30 M2672.12 983.90V992.30 M2397.40 965.81H2389.00 M2397.40 890.41H2389.00 M2397.40 815.00H2389.00 M2397.40 739.60H2389.00 M2397.40 664.20H2389.00 M2397.40 588.80H2389.00" stroke="#000" stroke-width="1.92" fill="none"/>
<polyline points="2798.88,965.81 2801.52,936.72 2804.17,898.93 2806.81,884.64 2809.45,881.39 2812.10,847.63 2814.74,831.39 2817.38,813.21 2820.02,849.58 2822.67,794.38 2825.31,789.19 2827.95,798.28 2830.60,759.96 2833.24,743.73 2835.88,754.12 2838.52,728.80 2841.17,719.06 2843.81,717.76 2846.45,701.52 2849.09,709.32 2851.74,712.56 2854.38,711.26 2857.02,712.56 2859.67,687.24 2862.31,689.77 2864.95,692.07 2867.59,687.50 2870.24,681.94 2872.88,683.00 2875.52,682.35 2878.17,681.05 2880.81,676.85 2883.45,675.09 2886.09,671.25 2888.74,674.28 2891.38,666.71 2894.02,656.72 2896.67,665.61 2899.31,667.89 2901.95,668.23 2904.59,675.55 2907.24,664.38 2909.88,661.00 2912.52,656.51 2915.16,647.63 2917.81,652.86 2920.45,652.16 2923.09,648.93 2925.74,646.02 2928.38,643.43 2931.02,645.58 2933.66,643.96 2936.31,644.22 2938.95,640.84 2941.59,638.00 2944.24,645.82 2946.88,637.57 2949.52,638.57 2952.16,641.86 2954.81,634.96 2957.45,634.95 2960.09,632.73 2962.73,635.36 2965.38,625.88 2968.02,629.22 2970.66,629.18 2973.31,623.93 2975.95,625.06 2978.59,623.83 2981.23,622.30 2983.88,629.00 2986.52,619.67 2989.16,623.64 2991.81,621.56 2994.45,621.65 2997.09,622.81 2999.73,620.02 3002.38,618.60 3005.02,620.03 3007.66,618.33 3010.31,622.67 3012.95,621.21 3015.59,620.57 3018.23,616.50 3020.88,608.11 3023.52,615.39 3026.16,615.57 3028.80,614.63 3031.45,611.54 3034.09,611.57 3036.73,615.33 3039.38,609.81 3042.02,617.11 3044.66,608.87 3047.30,614.27 3049.95,612.06 3052.59,606.05 3055.23,606.72 3057.88,603.99 3060.52,606.07" fill="none" stroke="#1f77b4" stroke-width="4.8" stroke-linejoin="round" stroke-linecap="square"/>
<g fill="#1f77b4"><circle cx="2798.88" cy="965.81" r="6"/><circle cx="2801.52" cy="936.72" r="6"/><circle cx="2804.17" cy="898.93" r="6"/><circle cx="2806.81" cy="884.64" r="6"/><circle cx="2809.45" cy="881.39" r="6"/><circle cx="2812.10" cy="847.63" r="6"/><circle cx="2814.74" cy="831.39" r="6"/><circle cx="2817.38" cy="813.21" r="6"/><circle cx="2820.02" cy="849.58" r="6"/><circle cx="2822.67" cy="794.38" r="6"/><circle cx="2825.31" cy="789.19" r="6"/><circle cx="2827.95" cy="798.28" r="6"/><circle cx="2830.60" cy="759.96" r="6"/><circle cx="2833.24" cy="743.73" r="6"/><circle cx="2835.88" cy="754.12" r="6"/><circle cx="2838.52" cy="728.80" r="6"/><circle cx="2841.17" cy="719.06" r="6"/><circle cx="2843.81" cy="717.76" r="6"/><circle cx="2846.45" cy="701.52" r="6"/><circle cx="2849.09" cy="709.32" r="6"/><circle cx="2851.74" cy="712.56" r="6"/><circle cx="2854.38" cy="711.26" r="6"/><circle cx="2857.02" cy="712.56" r="6"/><circle cx="2859.67" cy="687.24" r="6"/><circle cx="2862.31" cy="689.77" r="6"/><circle cx="2864.95" cy="692.07" r="6"/><circle cx="2867.59" cy="687.50" r="6"/><circle cx="2870.24" cy="681.94" r="6"/><circle cx="2872.88" cy="683.00" r="6"/><circle cx="2875.52" cy="682.35" r="6"/><circle cx="2878.17" cy="681.05" r="6"/><circle cx="2880.81" cy="676.85" r="6"/><circle cx="2883.45" cy="675.09" r="6"/><circle cx="2886.09" cy="671.25" r="6"/><circle cx="2888.74" cy="674.28" r="6"/><circle cx="2891.38" cy="666.71" r="6"/><circle cx="2894.02" cy="656.72" r="6"/><circle cx="2896.67" cy="665.61" r="6"/><circle cx="2899.31" cy="667.89" r="6"/><circle cx="2901.95" cy="668.23" r="6"/><circle cx="2904.59" cy="675.55" r="6"/><circle cx="2907.24" cy="664.38" r="6"/><circle cx="2909.88" cy="661.00" r="6"/><circle cx="2912.52" cy="656.51" r="6"/><circle cx="2915.16" cy="647.63" r="6"/><circle cx="2917.81" cy="652.86" r="6"/><circle cx="2920.45" cy="652.16" r="6"/><circle cx="2923.09" cy="648.93" r="6"/><circle cx="2925.74" cy="646.02" r="6"/><circle cx="2928.38" cy="643.43" r="6"/><circle cx="2931.02" cy="645.58" r="6"/><circle cx="2933.66" cy="643.96" r="6"/><circle cx="2936.31" cy="644.22" r="6"/><circle cx="2938.95" cy="640.84" r="6"/><circle cx="2941.59" cy="638.00" r="6"/><circle cx="2944.24" cy="645.82" r="6"/><circle cx="2946.88" cy="637.57" r="6"/><circle cx="2949.52" cy="638.57" r="6"/><circle cx="2952.16" cy="641.86" r="6"/><circle cx="2954.81" cy="634.96" r="6"/><circle cx="2957.45" cy="634.95" r="6"/><circle cx="2960.09" cy="632.73" r="6"/><circle cx="2962.73" cy="635.36" r="6"/><circle cx="2965.38" cy="625.88" r="6"/><circle cx="2968.02" cy="629.22" r="6"/><circle cx="2970.66" cy="629.18" r="6"/><circle cx="2973.31" cy="623.93" r="6"/><circle cx="2975.95" cy="625.06" r="6"/><circle cx="2978.59" cy="623.83" r="6"/><circle cx="2981.23" cy="622.30" r="6"/><circle cx="2983.88" cy="629.00" r="6"/><circle cx="2986.52" cy="619.67" r="6"/><circle cx="2989.16" cy="623.64" r="6"/><circle cx="2991.81" cy="621.56" r="6"/><circle cx="2994.45" cy="621.65" r="6"/><circle cx="2997.09" cy="622.81" r="6"/><circle cx="2999.73" cy="620.02" r="6"/><circle cx="3002.38" cy="618.60" r="6"/><circle cx="3005.02" cy="620.03" r="6"/><circle cx="3007.66" cy="618.33" r="6"/><circle cx="3010.31" cy="622.67" r="6"/><circle cx="3012.95" cy="621.21" r="6"/><circle cx="3015.59" cy="620.57" r="6"/><circle cx="3018.23" cy="616.50" r="6"/><circle cx="3020.88" cy="608.11" r="6"/><circle cx="3023.52" cy="615.39" r="6"/><circle cx="3026.16" cy="615.57" r="6"/><circle cx="3028.80" cy="614.63" r="6"/><circle cx="3031.45" cy="611.54" r="6"/><circle cx="3034.09" cy="611.57" r="6"/><circle cx="3036.73" cy="615.33" r="6"/><circle cx="3039.38" cy="609.81" r="6"/><circle cx="3042.02" cy="617.11" r="6"/><circle cx="3044.66" cy="608.87" r="6"/><circle cx="3047.30" cy="614.27" r="6"/><circle cx="3049.95" cy="612.06" r="6"/><circle cx="3052.59" cy="606.05" r="6"/><circle cx="3055.23" cy="606.72" r="6"/><circle cx="3057.88" cy="603.99" r="6"/><circle cx="3060.52" cy="606.07" r="6"/></g>
<polyline points="2798.88,915.47 2801.52,910.27 2804.17,900.70 2806.81,888.06 2809.45,873.83 2812.10,859.24 2814.74,845.05 2817.38,831.54 2820.02,818.64 2822.67,806.11 2825.31,793.76 2827.95,781.53 2830.60,769.54 2833.24,758.05 2835.88,747.37 2838.52,737.78 2841.17,729.51 2843.81,722.63 2846.45,717.06 2849.09,712.52 2851.74,708.65 2854.38,705.07 2857.02,701.56 2859.67,698.05 2862.31,694.61 2864.95,691.38 2867.59,688.45 2870.24,685.84 2872.88,683.49 2875.52,681.30 2878.17,679.16 2880.81,677.02 2883.45,674.88 2886.09,672.81 2888.74,670.91 2891.38,669.31 2894.02,668.06 2896.67,667.12 2899.31,666.29 2901.95,665.34 2904.59,664.03 2907.24,662.26 2909.88,660.09 2912.52,657.68 2915.16,655.25 2917.81,652.98 2920.45,650.94 2923.09,649.16 2925.74,647.61 2928.38,646.27 2931.02,645.09 2933.66,644.04 2936.31,643.09 2938.95,642.22 2941.59,641.38 2944.24,640.53 2946.88,639.62 2949.52,638.61 2952.16,637.48 2954.81,636.21 2957.45,634.82 2960.09,633.36 2962.73,631.88 2965.38,630.43 2968.02,629.06 2970.66,627.81 2973.31,626.72 2975.95,625.79 2978.59,625.01 2981.23,624.35 2983.88,623.77 2986.52,623.23 2989.16,622.72 2991.81,622.22 2994.45,621.73 2997.09,621.27 2999.73,620.86 3002.38,620.48 3005.02,620.10 3007.66,619.68 3010.31,619.14 3012.95,618.45 3015.59,617.61 3018.23,616.69 3020.88,615.79 3023.52,614.99 3026.16,614.34 3028.80,613.84 3031.45,613.45 3034.09,613.14 3036.73,612.83 3039.38,612.47 3042.02,612.00 3044.66,611.37 3047.30,610.58 3049.95,609.68 3052.59,608.74 3055.23,607.90 3057.88,607.25 3060.52,606.91" fill="none" stroke="#ff7f0e" stroke-width="4.8" stroke-dasharray="4.80 7.92" stroke-linecap="butt" stroke-linejoin="round"/>
<rect x="2785.80" y="585.90" width="287.80" height="398.00" fill="none" stroke="#000" stroke-width="1.92" stroke-linejoin="miter"/>
<path d="M2796.24 983.90V992.30 M2928.38 983.90V992.30 M3060.52 983.90V992.30 M2785.80 965.81H2777.40 M2785.80 900.87H2777.40 M2785.80 835.94H2777.40 M2785.80 771.00H2777.40 M2785.80 706.07H2777.40 M2785.80 641.13H2777.40" stroke="#000" stroke-width="1.92" fill="none"/>
<rect x="536.7" y="95.5" width="193.70" height="84.90" rx="5.3" fill="#fff" fill-opacity="0.8" stroke="#d6d6d6" stroke-width="2.40"/>
<path d="M546.3 115.3H598.9" stroke="#1f77b4" stroke-width="4.8" stroke-linecap="square"/>
<circle cx="573.6" cy="115.3" r="6" fill="#1f77b4"/>
<path d="M546.3 154.6H598.9" stroke="#ff7f0e" stroke-width="4.8" stroke-dasharray="4.80 7.92"/>
</g>
<g font-family="DejaVu Sans, Liberation Sans, sans-serif" fill="#000"><text x="69.08" y="515.10" font-size="26.3">0</text><text x="192.71" y="515.10" font-size="26.3">50</text><text x="316.05" y="515.10" font-size="26.3">100</text><text x="34.07" y="478.20" font-size="26.3">1</text><text x="34.07" y="374.02" font-size="26.3">2</text><text x="34.07" y="269.84" font-size="26.3">3</text><text x="34.07" y="165.66" font-size="26.3">4</text><text x="110.77" y="67.00" font-size="29.1">train/box_loss</text><text x="457.48" y="515.10" font-size="26.3">0</text><text x="581.11" y="515.10" font-size="26.3">50</text><text x="704.45" y="515.10" font-size="26.3">100</text><text x="422.47" y="434.52" font-size="26.3">2</text><text x="422.47" y="334.82" font-size="26.3">4</text><text x="422.47" y="235.12" font-size="26.3">6</text><text x="422.47" y="135.42" font-size="26.3">8</text><text x="499.71" y="67.00" font-size="29.1">train/seg_loss</text><text x="845.88" y="515.10" font-size="26.3">0</text><text x="969.51" y="515.10" font-size="26.3">50</text><text x="1092.85" y="515.10" font-size="26.3">100</text><text x="810.87" y="449.30" font-size="26.3">1</text><text x="810.87" y="390.65" font-size="26.3">2</text><text x="810.87" y="332.00" font-size="26.3">3</text><text x="810.87" y="273.35" font-size="26.3">4</text><text x="810.87" y="214.70" font-size="26.3">5</text><text x="810.87" y="156.05" font-size="26.3">6</text><text x="810.87" y="97.40" font-size="26.3">7</text><text x="894.25" y="67.00" font-size="29.1">train/cls_loss</text><text x="1234.28" y="515.10" font-size="26.3">0</text><text x="1357.91" y="515.10" font-size="26.3">50</text><text x="1481.25" y="515.10" font-size="26.3">100</text><text x="1174.17" y="482.60" font-size="26.3">1.0</text><text x="1174.17" y="415.29" font-size="26.3">1.5</text><text x="1174.17" y="347.98" font-size="26.3">2.0</text><text x="1174.17" y="280.67" font-size="26.3">2.5</text><text x="1174.17" y="213.36" font-size="26.3">3.0</text><text x="1174.17" y="146.05" font-size="26.3">3.5</text><text x="1283.87" y="67.00" font-size="29.1">train/dfl_loss</text><text x="1622.68" y="515.10" font-size="26.3">0</text><text x="1746.31" y="515.10" font-size="26.3">50</text><text x="1869.65" y="515.10" font-size="26.3">100</text><text x="1562.57" y="471.06" font-size="26.3">0.0</text><text x="1562.57" y="394.53" font-size="26.3">0.2</text><text x="1562.57" y="318.01" font-size="26.3">0.4</text><text x="1562.57" y="241.48" font-size="26.3">0.6</text><text x="1562.57" y="164.96" font-size="26.3">0.8</text><text x="1618.11" y="67.00" font-size="29.1">metrics/precision(B)</text><text x="2011.08" y="515.10" font-size="26.3">0</text><text x="2134.71" y="515.10" font-size="26.3">50</text><text x="2258.05" y="515.10" font-size="26.3">100</text><text x="1950.97" y="471.06" font-size="26.3">0.0</text><text x="1950.97" y="392.35" font-size="26.3">0.2</text><text x="1950.97" y="313.63" font-size="26.3">0.4</text><text x="1950.97" y="234.92" font-size="26.3">0.6</text><text x="1950.97" y="156.21" font-size="26.3">0.8</text><text x="2032.54" y="67.00" font-size="29.1">metrics/recall(B)</text><text x="2399.48" y="515.10" font-size="26.3">0</text><text x="2523.11" y="515.10" font-size="26.3">50</text><text x="2646.45" y="515.10" font-size="26.3">100</text><text x="2339.37" y="471.06" font-size="26.3">0.0</text><text x="2339.37" y="394.61" font-size="26.3">0.2</text><text x="2339.37" y="318.17" font-size="26.3">0.4</text><text x="2339.37" y="241.73" font-size="26.3">0.6</text><text x="2339.37" y="165.28" font-size="26.3">0.8</text><text x="2392.35" y="67.00" font-size="29.1">metrics/precision(M)</text><text x="2787.88" y="515.10" font-size="26.3">0</text><text x="2911.51" y="515.10" font-size="26.3">50</text><text x="3034.85" y="515.10" font-size="26.3">100</text><text x="2727.77" y="471.06" font-size="26.3">0.0</text><text x="2727.77" y="391.87" font-size="26.3">0.2</text><text x="2727.77" y="312.68" font-size="26.3">0.4</text><text x="2727.77" y="233.50" font-size="26.3">0.6</text><text x="2727.77" y="154.31" font-size="26.3">0.8</text><text x="2806.77" y="67.00" font-size="29.1">metrics/recall(M)</text><text x="69.08" y="1020.10" font-size="26.3">0</text><text x="192.71" y="1020.10" font-size="26.3">50</text><text x="316.05" y="1020.10" font-size="26.3">100</text><text x="34.07" y="979.10" font-size="26.3">1</text><text x="34.07" y="883.85" font-size="26.3">2</text><text x="34.07" y="788.60" font-size="26.3">3</text><text x="34.07" y="693.35" font-size="26.3">4</text><text x="34.07" y="598.09" font-size="26.3">5</text><text x="123.02" y="570.90" font-size="29.1">val/box_loss</text><text x="457.48" y="1020.10" font-size="26.3">0</text><text x="581.11" y="1020.10" font-size="26.3">50</text><text x="704.45" y="1020.10" font-size="26.3">100</text><text x="422.47" y="909.89" font-size="26.3">2</text><text x="422.47" y="816.13" font-size="26.3">3</text><text x="422.47" y="722.38" font-size="26.3">4</text><text x="422.47" y="628.63" font-size="26.3">5</text><text x="511.96" y="570.90" font-size="29.1">val/seg_loss</text><text x="845.88" y="1020.10" font-size="26.3">0</text><text x="969.51" y="1020.10" font-size="26.3">50</text><text x="1092.85" y="1020.10" font-size="26.3">100</text><text x="810.87" y="946.89" font-size="26.3">1</text><text x="810.87" y="872.99" font-size="26.3">2</text><text x="810.87" y="799.09" font-size="26.3">3</text><text x="810.87" y="725.19" font-size="26.3">4</text><text x="810.87" y="651.29" font-size="26.3">5</text><text x="906.50" y="570.90" font-size="29.1">val/cls_loss</text><text x="1234.28" y="1020.10" font-size="26.3">0</text><text x="1357.91" y="1020.10" font-size="26.3">50</text><text x="1481.25" y="1020.10" font-size="26.3">100</text><text x="1174.17" y="988.48" font-size="26.3">1.0</text><text x="1174.17" y="922.14" font-size="26.3">1.5</text><text x="1174.17" y="855.80" font-size="26.3">2.0</text><text x="1174.17" y="789.46" font-size="26.3">2.5</text><text x="1174.17" y="723.12" font-size="26.3">3.0</text><text x="1174.17" y="656.78" font-size="26.3">3.5</text><text x="1296.12" y="570.90" font-size="29.1">val/dfl_loss</text><text x="1622.68" y="1020.10" font-size="26.3">0</text><text x="1746.31" y="1020.10" font-size="26.3">50</text><text x="1869.65" y="1020.10" font-size="26.3">100</text><text x="1562.57" y="976.01" font-size="26.3">0.0</text><text x="1562.57" y="900.89" font-size="26.3">0.2</text><text x="1562.57" y="825.77" font-size="26.3">0.4</text><text x="1562.57" y="750.65" font-size="26.3">0.6</text><text x="1562.57" y="675.53" font-size="26.3">0.8</text><text x="1562.57" y="600.41" font-size="26.3">1.0</text><text x="1632.34" y="570.90" font-size="29.1">metrics/mAP50(B)</text><text x="2011.08" y="1020.10" font-size="26.3">0</text><text x="2134.71" y="1020.10" font-size="26.3">50</text><text x="2258.05" y="1020.10" font-size="26.3">100</text><text x="1950.97" y="976.01" font-size="26.3">0.0</text><text x="1950.97" y="868.55" font-size="26.3">0.2</text><text x="1950.97" y="761.09" font-size="26.3">0.4</text><text x="1950.97" y="653.63" font-size="26.3">0.6</text><text x="1996.98" y="570.90" font-size="29.1">metrics/mAP50-95(B)</text><text x="2399.48" y="1020.10" font-size="26.3">0</text><text x="2523.11" y="1020.10" font-size="26.3">50</text><text x="2646.45" y="1020.10" font-size="26.3">100</text><text x="2339.37" y="976.01" font-size="26.3">0.0</text><text x="2339.37" y="900.61" font-size="26.3">0.2</text><text x="2339.37" y="825.20" font-size="26.3">0.4</text><text x="2339.37" y="749.80" font-size="26.3">0.6</text><text x="2339.37" y="674.40" font-size="26.3">0.8</text><text x="2339.37" y="599.00" font-size="26.3">1.0</text><text x="2406.57" y="570.90" font-size="29.1">metrics/mAP50(M)</text><text x="2787.88" y="1020.10" font-size="26.3">0</text><text x="2911.51" y="1020.10" font-size="26.3">50</text><text x="3034.85" y="1020.10" font-size="26.3">100</text><text x="2727.77" y="976.01" font-size="26.3">0.0</text><text x="2727.77" y="911.07" font-size="26.3">0.1</text><text x="2727.77" y="846.14" font-size="26.3">0.2</text><text x="2727.77" y="781.20" font-size="26.3">0.3</text><text x="2727.77" y="716.27" font-size="26.3">0.4</text><text x="2727.77" y="651.33" font-size="26.3">0.5</text><text x="2771.21" y="570.90" font-size="29.1">metrics/mAP50-95(M)</text><text x="620.81" y="125.00" font-size="26.3">results</text><text x="621.78" y="163.20" font-size="26.3">smooth</text></g>
</svg>
</body></html>
